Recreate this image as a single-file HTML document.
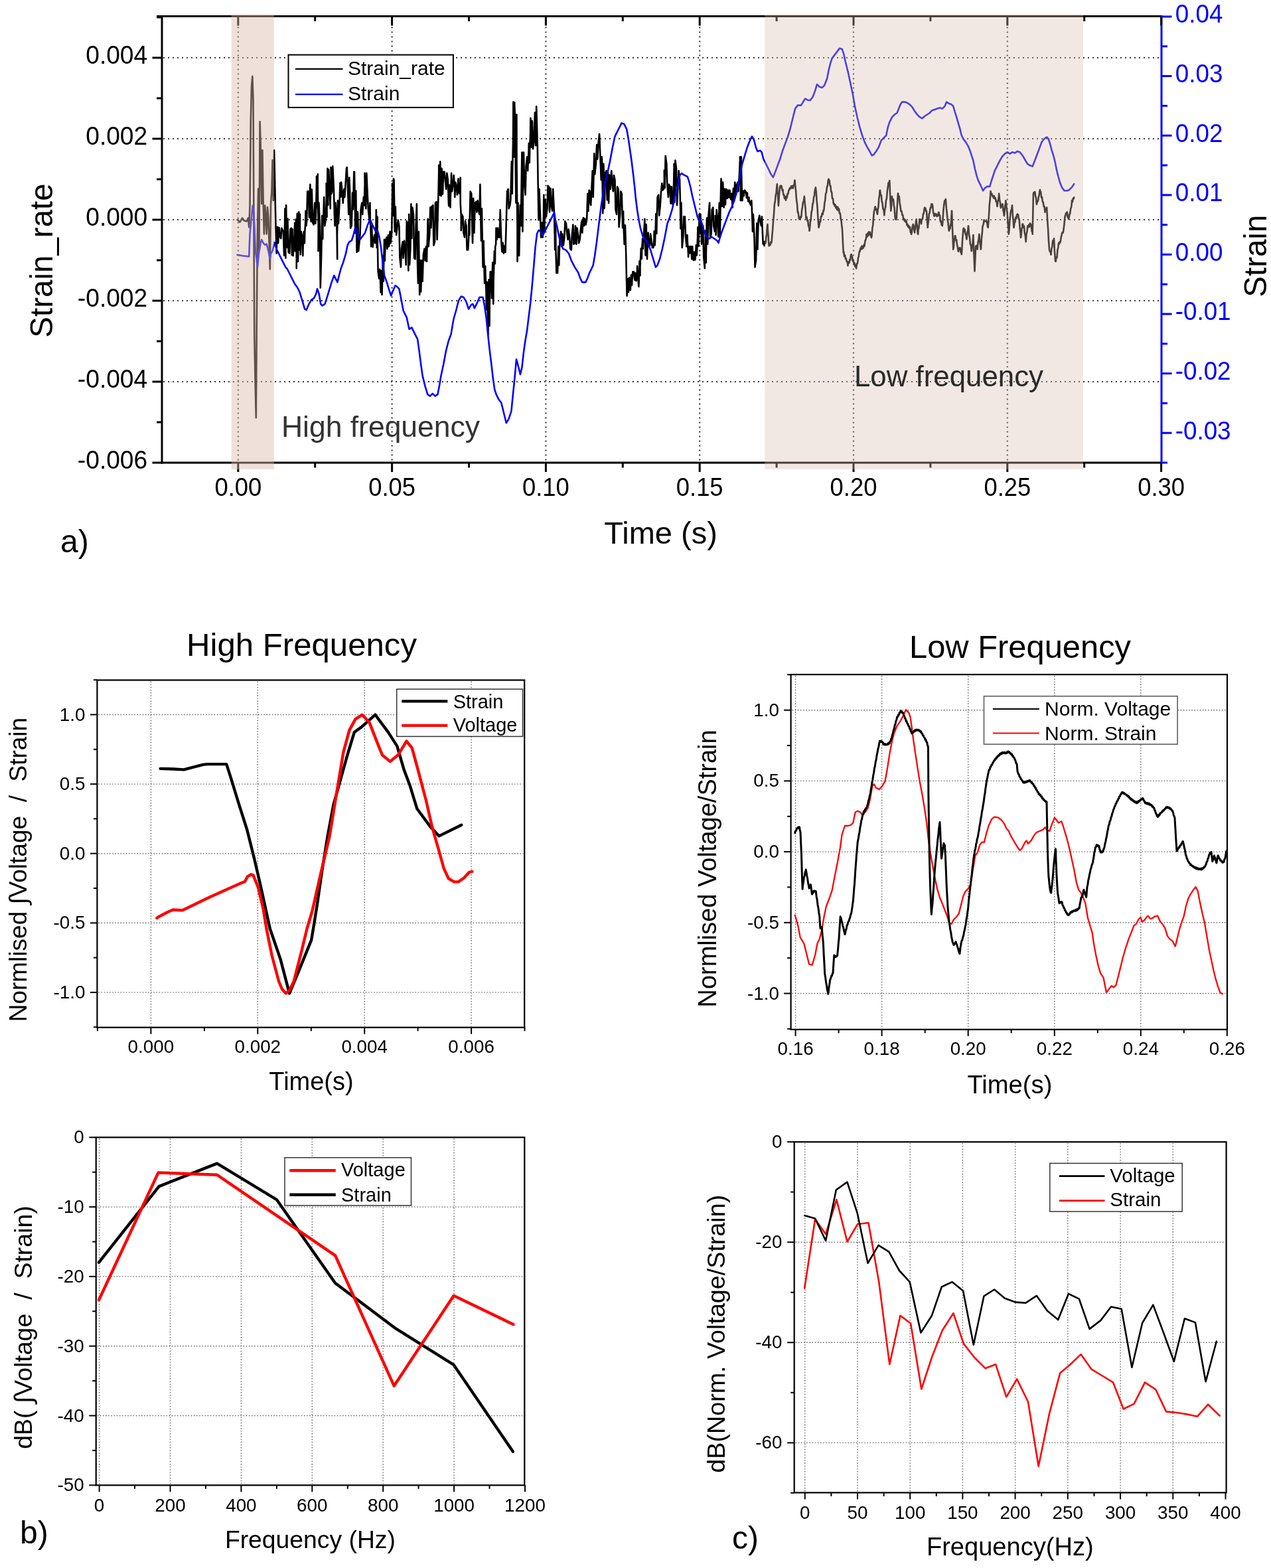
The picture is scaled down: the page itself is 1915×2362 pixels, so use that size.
<!DOCTYPE html>
<html><head><meta charset="utf-8"><title>Strain rate and strain figure</title>
<style>
html,body{margin:0;padding:0;background:#fff;}
body{width:1915px;height:2362px;overflow:hidden;}
svg{display:block;}
text{font-family:'Liberation Sans',Arial,sans-serif;}
</style></head>
<body>
<svg xmlns="http://www.w3.org/2000/svg" width="1915" height="2362" viewBox="0 0 1915 2362">
<rect width="1915" height="2362" fill="#fff"/>
<line x1="358.8" y1="26.6" x2="358.8" y2="695.0" stroke="#383838" stroke-width="2.2" stroke-dasharray="2 5"/>
<line x1="590.6" y1="26.6" x2="590.6" y2="695.0" stroke="#383838" stroke-width="2.2" stroke-dasharray="2 5"/>
<line x1="822.4" y1="26.6" x2="822.4" y2="695.0" stroke="#383838" stroke-width="2.2" stroke-dasharray="2 5"/>
<line x1="1054.2" y1="26.6" x2="1054.2" y2="695.0" stroke="#383838" stroke-width="2.2" stroke-dasharray="2 5"/>
<line x1="1286.0" y1="26.6" x2="1286.0" y2="695.0" stroke="#383838" stroke-width="2.2" stroke-dasharray="2 5"/>
<line x1="1517.8" y1="26.6" x2="1517.8" y2="695.0" stroke="#383838" stroke-width="2.2" stroke-dasharray="2 5"/>
<line x1="246.0" y1="87.0" x2="1748.0" y2="87.0" stroke="#383838" stroke-width="2.2" stroke-dasharray="2 5"/>
<line x1="246.0" y1="209.0" x2="1748.0" y2="209.0" stroke="#383838" stroke-width="2.2" stroke-dasharray="2 5"/>
<line x1="246.0" y1="331.0" x2="1748.0" y2="331.0" stroke="#383838" stroke-width="2.2" stroke-dasharray="2 5"/>
<line x1="246.0" y1="453.0" x2="1748.0" y2="453.0" stroke="#383838" stroke-width="2.2" stroke-dasharray="2 5"/>
<line x1="246.0" y1="575.0" x2="1748.0" y2="575.0" stroke="#383838" stroke-width="2.2" stroke-dasharray="2 5"/>
<polyline points="357.6,330.9 361.4,334.7 365.1,328.4 367.7,332.2 371.5,333.4 374.0,328.4 375.2,342.3 376.5,309.5 377.8,180.8 379.0,130.3 380.3,115.1 381.5,150.5 382.3,306.9 383.3,508.8 384.8,584.5 385.8,629.2 386.6,508.8 387.9,352.4 389.1,284.2 390.4,377.6 391.6,183.3 392.9,226.2 394.2,306.9 395.4,226.2 396.7,306.9 397.9,352.4 399.2,309.5 400.5,327.1 401.7,352.4 403.0,312.0 404.3,327.1 405.5,365.0 406.8,405.4 408.0,306.9 409.3,289.3 410.6,241.3 411.8,301.9 413.1,226.2 415.6,345.4 416.6,381.7 416.8,372.3 417.8,343.2 418.1,341.9 419.1,366.1 419.4,361.1 420.4,342.8 420.7,343.6 421.7,355.7 423.3,359.2 424.3,343.6 426.8,348.8 427.8,378.2 428.1,384.8 429.1,338.1 429.4,314.2 430.4,388.6 430.2,382.3 431.2,311.1 431.1,309.1 432.1,367.8 432.4,372.6 433.4,329.4 433.7,343.6 434.7,379.9 436.3,381.7 437.3,345.4 438.9,343.6 439.9,383.4 439.8,384.3 440.8,345.2 440.6,348.8 441.6,385.1 443.2,366.1 444.2,336.7 444.1,336.1 445.1,371.8 444.9,378.2 445.9,335.0 445.8,330.3 446.8,390.5 446.7,404.1 447.7,322.9 448.0,321.5 449.0,394.0 449.3,378.2 450.3,319.4 450.1,321.1 451.1,376.8 451.0,374.8 452.0,322.9 451.9,339.4 452.9,379.3 452.7,383.4 453.7,348.8 455.3,357.5 456.3,385.1 456.6,372.9 457.6,351.4 457.9,348.8 458.9,366.1 459.2,350.8 460.2,335.3 460.5,317.7 461.5,340.2 462.2,331.5 463.2,288.3 464.8,288.3 465.8,322.9 466.1,327.8 467.1,281.8 467.4,277.9 468.4,331.5 468.7,333.8 469.7,285.3 470.0,291.8 471.0,335.0 472.6,338.5 473.6,316.0 474.3,305.6 475.3,336.7 476.1,319.4 477.1,267.6 476.9,265.5 477.9,313.0 477.8,309.1 478.8,262.4 478.7,278.3 479.7,345.0 479.5,378.2 480.5,305.6 481.8,340.2 482.8,433.5 484.2,383.4 485.2,326.3 485.3,324.7 486.3,359.9 486.4,336.7 487.4,322.9 488.2,297.0 489.2,340.2 490.8,331.5 491.8,298.7 491.6,276.4 492.6,326.7 492.5,316.0 493.5,253.7 493.4,254.7 494.4,308.8 494.2,305.6 495.2,255.5 496.8,288.3 497.8,314.2 497.7,303.0 498.7,274.9 498.5,252.0 499.5,291.8 500.3,288.3 501.3,250.3 502.9,284.9 503.9,322.9 504.6,340.2 505.6,305.6 507.2,322.9 508.2,390.3 508.0,353.8 509.0,312.4 508.9,302.1 509.9,336.7 511.5,305.6 512.5,276.2 512.4,275.5 513.4,296.6 513.2,288.3 514.2,274.5 515.8,291.8 516.8,305.6 517.1,300.2 518.1,287.5 518.4,284.9 519.4,297.0 521.0,271.0 522.0,253.7 522.7,252.0 523.7,274.5 525.3,322.9 526.3,267.6 527.1,288.3 528.1,343.6 529.7,340.2 530.7,305.6 531.0,290.5 532.0,315.5 532.3,302.1 533.3,258.9 534.0,258.9 535.0,322.9 535.3,351.1 536.3,287.6 536.6,316.0 537.6,379.9 537.9,379.1 538.9,319.0 539.2,322.9 540.2,378.2 542.6,352.3 543.6,316.0 545.2,305.6 546.2,322.9 546.5,317.5 547.5,302.9 547.8,297.0 548.8,309.1 548.7,306.8 549.7,277.6 549.5,260.7 550.5,305.6 551.3,314.2 552.3,260.7 553.9,297.0 554.9,316.0 556.5,331.5 557.5,305.6 557.8,327.6 558.8,354.2 559.1,371.3 560.1,340.2 560.3,347.1 561.3,371.6 561.6,372.2 562.6,362.7 564.2,354.0 565.2,366.1 565.5,358.5 566.5,340.9 566.8,316.0 567.8,352.3 567.7,373.0 568.7,326.7 568.6,348.8 569.6,409.3 571.2,419.7 572.2,405.9 572.4,407.3 573.4,431.8 573.7,440.5 574.7,409.3 574.6,407.9 575.6,442.1 575.5,443.9 576.5,405.9 576.8,385.4 577.8,423.7 578.1,400.7 579.1,360.9 578.9,362.1 579.9,392.7 579.8,388.6 580.8,364.4 582.4,357.5 583.4,374.8 583.7,372.6 584.7,355.6 585.0,354.0 586.0,371.3 586.3,369.4 587.3,352.4 587.6,348.8 588.6,366.1 590.2,350.6 591.2,286.6 591.0,276.5 592.0,324.9 591.9,305.6 592.9,269.3 593.6,271.0 594.6,340.2 594.9,348.7 595.9,311.6 596.2,329.8 597.2,354.0 598.8,340.2 599.8,331.5 601.4,340.2 602.4,388.6 604.0,402.4 605.0,374.8 606.6,364.4 607.6,388.6 607.9,379.8 608.9,363.8 609.2,362.7 610.2,374.8 611.8,399.0 612.8,333.3 614.4,336.7 615.4,407.6 615.2,402.9 616.2,329.2 616.1,322.9 617.1,399.0 618.4,374.8 619.4,307.3 619.4,309.8 620.4,358.9 620.4,340.2 621.4,312.5 623.0,322.9 624.0,388.6 625.6,390.3 626.6,340.2 627.9,307.3 628.9,392.0 629.9,426.6 630.9,348.8 631.1,366.4 632.1,432.1 632.2,443.9 633.2,392.0 633.2,400.4 634.2,439.5 634.3,433.5 635.3,409.3 635.6,392.3 636.6,423.8 636.9,414.5 637.9,383.4 639.5,374.8 640.5,392.0 640.7,392.8 641.7,373.7 642.0,371.3 643.0,393.8 643.3,378.1 644.3,350.4 644.6,329.8 645.6,371.3 647.2,354.0 648.2,314.2 648.5,312.0 649.5,343.3 649.8,336.7 650.8,310.8 652.4,309.1 653.4,369.6 655.0,364.4 656.0,305.6 657.6,303.9 658.6,360.9 660.2,305.6 661.2,260.7 661.2,248.7 662.2,293.8 662.3,288.3 663.3,243.4 663.4,249.6 664.4,292.4 664.5,295.2 665.5,253.7 665.8,256.4 666.8,292.7 667.1,290.0 668.1,258.9 669.7,258.9 670.7,271.0 672.3,284.9 673.3,260.7 674.9,271.0 675.9,305.6 676.2,310.2 677.2,278.9 677.5,283.1 678.5,312.5 678.8,296.3 679.8,271.3 680.1,260.7 681.1,288.3 682.7,276.2 683.7,264.1 684.0,268.1 685.0,285.1 685.3,297.0 686.3,274.5 687.9,281.4 688.9,293.5 689.2,292.1 690.2,273.4 690.5,269.3 691.5,290.0 692.7,291.8 693.7,267.6 693.7,305.3 694.7,324.0 694.8,347.1 695.8,322.9 697.4,326.3 698.4,350.6 700.0,357.5 701.0,333.3 702.6,340.2 703.6,376.5 705.2,376.5 706.2,357.5 706.4,331.0 707.4,353.8 707.7,331.5 708.7,288.3 710.3,291.8 711.3,340.2 712.1,366.1 713.1,298.7 713.4,303.0 714.4,350.8 714.7,340.2 715.7,305.6 717.3,303.9 718.3,319.4 718.5,318.3 719.5,302.8 719.8,302.1 720.8,316.0 722.4,322.9 723.4,277.9 723.7,292.1 724.7,348.7 725.0,362.7 726.0,314.2 726.3,338.9 727.3,388.2 727.6,402.4 728.6,362.7 728.9,377.3 729.9,418.2 730.2,426.6 731.2,400.7 731.5,414.9 732.5,439.1 732.8,466.4 733.8,424.9 734.1,433.2 735.1,488.0 735.4,504.4 736.4,447.4 736.5,421.4 737.5,491.0 737.7,461.2 738.7,409.3 739.7,409.3 740.7,435.3 741.0,449.3 742.0,403.8 742.3,395.5 743.3,457.7 743.6,422.9 744.6,389.0 744.9,378.2 745.9,397.2 746.2,372.0 747.2,367.2 747.5,343.6 748.5,360.9 748.8,359.4 749.8,343.6 750.1,343.6 751.1,357.5 752.7,357.5 753.7,316.0 755.3,362.7 756.3,378.2 756.6,379.3 757.6,365.7 757.9,369.6 758.9,381.7 759.2,380.6 760.2,370.6 760.5,371.3 761.5,379.9 763.1,322.9 764.1,288.3 765.7,284.9 766.7,314.2 768.3,309.1 769.3,302.1 770.8,243.4 771.8,291.8 772.1,260.5 773.1,208.3 773.4,153.5 774.4,236.4 774.3,209.9 775.3,154.6 775.2,156.9 776.2,181.1 777.4,305.6 778.4,172.5 778.5,243.6 779.5,345.9 779.5,393.8 780.5,305.6 781.2,348.8 782.2,385.1 782.5,367.0 783.5,321.6 783.8,309.1 784.8,340.2 786.4,229.5 787.4,348.8 787.7,314.0 788.7,229.5 789.0,229.5 790.0,271.0 791.6,293.5 792.6,250.3 794.2,236.4 795.2,257.2 795.5,249.5 796.5,230.1 796.8,215.7 797.8,245.1 798.1,227.0 799.1,200.7 799.4,177.7 800.4,219.2 800.7,221.7 801.7,182.1 802.0,184.6 803.0,224.3 804.6,210.5 805.6,181.1 805.9,169.6 806.9,216.1 807.2,219.2 808.2,160.4 809.8,219.2 810.8,288.3 811.5,331.5 812.5,284.9 814.1,328.1 815.1,357.5 815.4,357.5 816.4,335.4 816.7,340.2 817.7,357.5 818.0,351.9 819.0,325.6 819.3,293.5 820.3,348.8 820.6,334.2 821.6,300.6 821.9,305.6 822.9,326.3 824.5,314.2 825.5,279.7 827.0,281.4 828.0,319.4 828.3,314.5 829.3,283.5 829.6,284.9 830.6,309.1 832.2,317.7 833.2,284.9 834.8,316.0 835.8,354.0 836.1,376.1 837.1,336.8 837.4,374.8 838.4,411.1 840.0,411.1 841.0,383.4 841.3,371.0 842.3,399.4 842.6,383.4 843.6,360.9 845.2,348.8 846.2,371.3 846.5,370.4 847.5,352.6 847.8,357.5 848.8,369.6 850.4,357.5 851.4,333.3 853.0,336.7 854.0,348.8 855.6,360.9 856.6,345.4 858.2,357.5 859.2,374.8 860.8,376.5 861.8,354.0 863.4,338.5 864.4,367.8 865.9,366.1 866.9,340.2 867.2,342.4 868.2,367.3 868.5,367.8 869.5,343.6 871.1,354.0 872.1,366.1 873.7,360.9 874.7,347.1 876.3,333.3 877.3,350.6 877.6,345.1 878.6,330.0 878.9,328.1 879.9,340.2 880.2,339.1 881.2,329.2 881.5,331.5 882.5,338.5 884.1,331.5 885.1,300.4 885.4,291.8 886.4,317.9 886.7,302.1 887.7,286.6 888.4,287.3 889.4,306.3 890.2,309.1 891.2,288.3 892.7,257.2 893.7,297.0 894.0,286.0 895.0,243.0 895.3,231.3 896.3,262.4 897.9,246.8 898.9,222.6 899.2,218.1 900.2,239.6 900.5,236.4 901.5,215.7 903.1,201.9 904.1,227.8 905.7,271.0 906.7,236.4 907.0,239.9 908.0,298.1 908.3,321.2 909.3,246.8 909.6,252.1 910.6,314.0 910.9,305.6 911.9,260.7 913.5,257.2 914.5,293.5 914.8,301.3 915.8,258.8 916.1,262.4 917.1,305.6 917.4,291.9 918.4,263.6 918.7,264.1 919.7,284.9 920.0,279.6 921.0,260.8 921.3,257.2 922.3,274.5 923.9,288.3 924.9,264.1 926.5,271.0 927.5,316.0 929.1,322.9 930.1,281.4 931.6,284.9 932.6,341.9 934.2,322.9 935.2,288.3 936.8,291.8 937.8,331.5 938.1,343.1 939.1,318.2 939.4,336.7 940.4,360.9 940.7,368.0 941.7,339.1 942.0,340.2 943.0,374.8 944.6,445.6 945.6,421.4 945.9,419.8 946.9,440.1 947.2,435.3 948.2,418.0 948.5,418.9 949.5,436.2 949.8,437.0 950.8,419.7 951.1,414.0 952.1,429.4 952.4,421.4 953.4,409.3 955.0,409.3 956.0,419.7 956.3,421.8 957.3,411.4 957.6,412.8 958.6,423.2 958.9,420.2 959.9,408.9 960.2,400.7 961.2,418.0 962.4,431.8 963.4,402.4 963.5,393.2 964.5,415.1 964.5,400.7 965.5,383.4 965.8,374.2 966.8,389.7 967.1,374.8 968.1,362.7 968.0,359.9 969.0,374.8 968.8,374.8 969.8,357.5 971.4,329.8 972.4,379.9 972.7,384.7 973.7,338.1 974.0,354.0 975.0,390.3 975.3,379.2 976.3,352.9 976.6,350.6 977.6,366.1 979.2,369.6 980.2,352.3 981.8,364.4 982.8,373.0 984.4,373.0 985.4,362.7 985.7,348.4 986.7,369.5 987.0,364.4 988.0,335.0 988.3,322.0 989.3,351.7 989.6,331.5 990.6,297.0 992.2,293.5 993.2,324.6 994.8,309.1 995.8,291.8 997.3,276.2 998.3,286.6 999.9,284.9 1000.9,272.8 1000.8,256.6 1001.8,283.0 1001.7,281.4 1002.7,234.7 1004.3,246.8 1005.3,277.9 1006.9,297.0 1007.9,277.9 1009.5,281.4 1010.5,305.6 1010.7,306.6 1011.7,281.4 1012.0,281.4 1013.0,307.3 1014.6,305.6 1015.6,252.0 1015.5,246.9 1016.5,304.4 1016.4,302.1 1017.4,241.6 1019.0,253.7 1020.0,309.1 1021.6,277.9 1022.6,257.2 1024.1,271.0 1025.1,312.5 1025.4,344.5 1026.4,305.4 1026.7,322.9 1027.7,373.0 1029.3,357.5 1030.3,326.3 1031.9,326.3 1032.9,354.0 1034.5,371.3 1035.5,354.0 1035.8,363.3 1036.8,378.7 1037.1,386.9 1038.1,371.3 1038.4,371.3 1039.4,381.5 1039.7,378.2 1040.7,371.3 1041.0,371.3 1042.0,384.9 1042.3,390.3 1043.3,371.3 1043.6,379.3 1044.6,391.2 1044.9,392.0 1045.9,386.9 1046.2,379.6 1047.2,391.4 1047.5,390.3 1048.5,376.5 1048.8,369.2 1049.8,384.6 1050.1,379.9 1051.1,357.5 1051.4,342.2 1052.4,370.6 1052.7,364.4 1053.7,322.9 1053.5,322.9 1054.5,351.8 1054.4,345.4 1055.4,322.9 1055.7,328.5 1056.7,354.2 1057.0,367.8 1058.0,340.2 1059.2,340.2 1060.2,386.9 1061.8,404.1 1062.8,360.9 1062.9,347.5 1063.9,395.8 1063.9,381.7 1064.9,329.8 1065.2,328.2 1066.2,367.7 1066.5,357.5 1067.5,324.6 1069.1,305.6 1070.1,357.5 1071.7,352.3 1072.7,316.0 1074.3,312.5 1075.3,340.2 1076.9,348.8 1077.9,331.5 1077.7,325.1 1078.7,352.4 1078.6,354.0 1079.6,316.0 1081.2,331.5 1082.2,355.7 1082.5,356.7 1083.5,314.0 1083.8,305.6 1084.8,357.5 1085.5,312.5 1086.5,269.3 1086.8,271.2 1087.8,310.9 1088.1,309.1 1089.1,274.5 1089.4,279.2 1090.4,311.4 1090.7,312.5 1091.7,284.9 1092.0,284.9 1093.0,308.1 1093.3,298.7 1094.3,284.9 1094.6,285.9 1095.6,298.7 1095.9,298.7 1096.9,286.6 1097.2,286.6 1098.2,297.5 1098.5,297.0 1099.5,286.6 1099.8,289.2 1100.8,298.1 1101.1,300.4 1102.1,293.5 1102.4,291.6 1103.4,307.3 1103.7,312.5 1104.7,288.3 1105.0,283.9 1106.0,303.1 1106.3,293.5 1107.3,274.5 1107.6,278.1 1108.6,291.7 1108.9,288.3 1109.9,279.7 1111.5,274.5 1112.5,288.3 1114.1,260.7 1115.1,236.4 1114.9,236.4 1115.9,281.0 1115.8,302.1 1116.8,236.4 1117.1,260.5 1118.1,302.1 1118.4,302.1 1119.4,288.3 1119.7,287.6 1120.7,295.3 1121.0,291.8 1122.0,286.6 1123.6,288.3 1124.6,295.2 1124.9,298.0 1125.9,290.5 1126.2,295.2 1127.2,302.1 1127.4,303.5 1128.4,297.2 1128.7,300.4 1129.7,305.6 1131.3,309.1 1132.3,302.1 1132.6,308.8 1133.6,335.8 1133.9,348.8 1134.9,322.9 1136.5,357.5 1137.5,402.4 1139.1,392.0 1140.1,345.4 1140.4,336.2 1141.4,375.5 1141.7,362.7 1142.7,331.5 1144.3,324.6 1145.3,333.3 1146.9,340.2 1147.9,326.3 1149.7,367.4 1149.7,365.5 1150.6,364.7 1151.4,368.0 1151.5,370.2 1152.4,363.7 1153.3,366.5 1154.0,363.0 1154.2,358.4 1155.1,352.7 1156.0,341.3 1156.5,337.8 1156.9,346.9 1157.8,357.9 1158.3,368.0 1158.7,370.5 1159.6,367.0 1160.3,368.0 1160.5,369.3 1161.4,364.6 1162.3,365.8 1162.8,363.0 1163.2,356.2 1164.1,347.2 1165.0,333.5 1165.3,330.2 1165.9,324.5 1166.8,309.5 1167.3,305.0 1167.7,304.7 1168.6,295.0 1169.1,292.3 1169.5,291.4 1170.4,280.4 1170.9,277.2 1171.3,285.7 1172.2,297.4 1172.9,310.0 1173.1,308.2 1174.0,292.7 1174.9,283.9 1174.9,282.2 1175.8,279.8 1176.7,279.7 1176.7,282.3 1177.6,280.1 1178.5,286.4 1179.2,287.3 1179.4,285.5 1180.3,293.4 1181.2,293.2 1181.7,297.4 1182.1,298.9 1183.0,296.1 1183.9,301.6 1184.3,299.9 1184.8,295.8 1185.7,298.0 1186.6,291.6 1186.8,292.3 1187.5,291.7 1188.4,286.4 1189.3,285.9 1189.3,284.8 1190.2,283.0 1191.1,284.3 1191.8,282.2 1192.0,280.4 1192.9,283.0 1193.8,280.2 1194.7,283.6 1195.1,282.2 1195.6,279.0 1196.5,279.0 1197.4,271.5 1197.6,272.1 1198.3,281.0 1199.2,288.3 1199.4,292.3 1200.1,301.3 1201.0,307.4 1201.9,319.8 1201.9,317.6 1202.8,321.1 1203.7,328.5 1204.4,330.2 1204.6,327.7 1205.5,330.0 1206.4,326.0 1207.0,327.7 1207.3,326.5 1208.2,316.1 1209.1,311.5 1209.5,307.5 1210.0,304.6 1210.9,303.0 1211.8,295.8 1212.0,297.4 1212.7,306.6 1213.6,314.1 1214.5,329.5 1214.5,327.7 1215.4,326.9 1216.3,332.6 1217.1,332.7 1217.2,332.0 1218.1,340.6 1219.0,342.1 1219.6,347.8 1219.9,346.1 1220.8,334.9 1221.7,331.1 1222.1,325.1 1222.6,319.4 1223.5,316.3 1224.4,306.7 1224.6,307.5 1225.3,304.5 1226.2,296.7 1227.1,294.6 1227.1,292.3 1228.0,285.1 1228.9,283.8 1228.9,282.2 1229.8,289.5 1230.7,303.9 1230.9,305.0 1231.6,313.3 1232.5,329.5 1233.4,340.6 1233.5,342.8 1234.3,340.4 1235.2,334.8 1236.0,332.7 1236.1,334.3 1237.0,326.1 1237.9,326.2 1238.5,322.6 1238.8,321.2 1239.7,322.8 1240.6,316.7 1241.0,317.6 1241.5,315.4 1242.4,305.5 1243.3,301.4 1243.6,297.4 1244.2,291.3 1245.1,289.8 1246.0,281.2 1246.1,282.2 1246.9,279.1 1247.8,271.3 1248.6,269.6 1248.7,270.8 1249.6,271.9 1250.5,279.5 1251.1,279.7 1251.4,280.3 1252.3,288.8 1253.2,289.6 1253.6,294.9 1254.1,299.0 1255.0,299.3 1255.9,307.0 1256.2,307.5 1256.8,306.7 1257.7,310.5 1258.6,308.4 1259.5,313.2 1260.0,312.5 1260.4,311.2 1261.3,316.0 1262.2,311.7 1263.1,317.2 1263.7,315.0 1264.0,314.4 1264.9,321.3 1265.8,321.1 1266.3,325.1 1266.7,329.7 1267.6,333.1 1268.5,342.2 1268.8,342.8 1269.4,353.0 1270.3,372.4 1270.8,380.7 1271.2,379.0 1272.1,386.4 1273.0,384.2 1273.8,388.2 1273.9,390.0 1274.8,389.4 1275.7,394.1 1276.6,394.3 1277.5,400.2 1277.6,398.3 1278.4,394.4 1279.3,396.4 1280.1,393.3 1280.2,390.9 1281.1,391.7 1282.0,383.9 1282.7,383.2 1282.9,386.0 1283.8,385.5 1284.7,392.7 1285.2,393.3 1285.6,392.0 1286.5,397.2 1287.4,396.0 1287.7,398.3 1288.3,401.6 1289.2,399.2 1290.1,404.4 1290.2,403.4 1291.0,397.1 1291.9,397.1 1292.8,390.7 1292.8,388.8 1293.7,386.9 1294.6,379.8 1295.3,378.1 1295.5,379.0 1296.4,373.9 1297.3,375.7 1297.8,373.1 1298.2,370.8 1299.1,375.0 1300.0,370.8 1300.3,373.1 1300.9,373.4 1301.8,368.2 1302.7,370.5 1302.8,368.0 1303.6,362.1 1304.5,361.3 1305.4,355.4 1305.4,353.1 1306.3,356.9 1307.2,351.6 1307.9,352.9 1308.1,355.3 1309.0,349.3 1309.9,352.6 1310.4,350.4 1310.8,349.7 1311.7,355.2 1312.6,354.6 1312.9,357.9 1313.5,355.6 1314.4,343.3 1315.3,338.9 1315.5,335.2 1316.1,327.8 1316.3,325.1 1317.0,318.0 1317.9,315.2 1318.1,312.5 1318.8,311.3 1319.7,316.0 1320.1,315.0 1320.6,314.8 1321.5,321.7 1322.1,322.6 1322.4,317.3 1323.3,312.6 1323.9,305.0 1324.2,300.0 1325.1,294.3 1325.6,287.3 1326.0,286.7 1326.9,293.2 1327.7,294.9 1327.8,294.1 1328.7,303.7 1329.6,305.8 1329.7,307.5 1330.5,314.8 1331.4,315.9 1332.2,322.6 1332.3,324.3 1333.2,315.4 1334.0,312.5 1334.1,312.3 1335.0,301.9 1335.9,299.2 1336.5,292.3 1336.8,287.9 1337.7,282.8 1338.3,277.2 1338.6,275.2 1339.5,276.0 1340.3,272.1 1340.4,274.1 1341.3,298.1 1342.2,314.0 1342.3,317.6 1343.1,309.3 1344.0,295.9 1344.1,297.4 1344.9,301.4 1345.8,300.2 1346.6,305.0 1346.7,308.7 1347.6,313.6 1348.5,326.3 1349.1,330.2 1349.4,327.7 1350.3,330.7 1350.9,327.7 1351.2,319.1 1352.1,306.7 1352.9,292.3 1353.0,291.2 1353.9,296.8 1354.8,295.8 1354.9,297.4 1355.7,306.2 1356.6,311.1 1356.7,312.5 1357.5,318.3 1358.4,317.8 1359.2,322.6 1359.3,324.0 1360.2,323.7 1361.1,329.7 1361.7,330.2 1362.0,329.3 1362.9,333.0 1363.8,331.2 1364.3,332.7 1364.7,334.8 1365.6,333.1 1366.5,339.3 1366.8,337.8 1367.4,337.8 1368.3,342.0 1369.2,340.2 1370.1,343.6 1370.6,342.8 1371.0,342.2 1371.9,350.2 1372.8,350.5 1373.1,352.9 1373.7,350.5 1374.6,342.2 1375.5,339.3 1375.6,337.8 1376.4,339.2 1377.3,347.2 1378.1,350.4 1378.2,348.1 1379.1,344.6 1380.0,333.7 1380.7,330.2 1380.9,335.2 1381.8,339.5 1382.7,351.4 1383.2,352.9 1383.6,346.5 1384.5,342.8 1385.4,330.3 1385.7,330.2 1386.3,333.0 1387.2,330.9 1388.1,337.3 1388.2,335.2 1389.0,330.3 1389.9,330.1 1390.7,325.1 1390.8,322.7 1391.7,321.8 1392.6,314.8 1393.3,312.5 1393.5,315.2 1394.4,313.6 1395.3,318.3 1395.8,317.6 1396.2,320.7 1397.1,335.3 1397.8,342.8 1398.0,339.9 1398.9,332.7 1399.6,325.1 1399.8,322.1 1400.7,320.9 1401.6,313.7 1402.1,312.5 1402.5,313.3 1403.4,307.4 1404.3,309.3 1404.6,307.5 1405.2,310.1 1406.1,320.3 1407.0,322.4 1407.1,325.1 1407.9,325.6 1408.8,321.8 1409.7,322.6 1409.7,324.3 1410.6,322.5 1411.5,325.9 1412.2,325.1 1412.4,323.3 1413.3,325.1 1414.2,319.7 1414.7,320.1 1415.1,324.1 1416.0,324.1 1416.9,333.6 1417.2,332.7 1417.8,333.0 1418.7,339.0 1419.6,338.5 1419.8,340.3 1420.5,331.9 1421.4,317.1 1422.3,307.5 1422.3,309.6 1423.2,302.2 1424.1,303.3 1424.8,299.9 1425.0,301.4 1425.9,313.7 1426.8,321.1 1427.3,327.7 1427.7,331.6 1428.6,335.8 1429.5,346.1 1429.9,347.8 1430.4,344.1 1431.3,344.9 1432.2,338.3 1432.4,340.3 1433.1,333.1 1434.0,318.3 1434.1,317.6 1434.9,341.0 1435.8,363.2 1436.2,375.6 1436.7,373.1 1437.6,362.4 1438.5,359.0 1438.7,355.4 1439.4,355.4 1440.3,362.0 1441.2,363.0 1441.2,361.4 1442.1,369.4 1443.0,372.4 1443.7,378.1 1443.9,378.8 1444.8,374.0 1445.7,376.0 1446.3,373.1 1446.6,373.5 1447.5,380.1 1448.4,380.8 1448.8,383.2 1449.3,376.1 1450.2,359.6 1451.1,349.7 1451.3,345.3 1452.0,343.6 1452.9,348.9 1453.8,345.8 1453.8,347.8 1454.7,353.3 1455.6,354.5 1456.4,360.5 1456.5,360.0 1457.4,350.0 1458.3,347.1 1458.9,340.3 1459.2,341.0 1460.1,353.9 1461.0,358.0 1461.4,363.0 1461.9,368.2 1462.8,369.3 1463.7,378.0 1463.9,378.1 1464.6,369.3 1465.5,366.2 1466.4,354.0 1466.4,355.4 1467.3,380.6 1468.2,400.4 1468.5,408.4 1469.1,395.6 1470.0,373.0 1470.2,370.6 1470.9,372.1 1471.8,369.9 1472.7,375.6 1472.8,373.1 1473.6,364.8 1474.5,361.4 1475.3,352.9 1475.4,353.3 1476.3,364.6 1477.2,369.1 1477.8,375.6 1478.1,374.0 1479.0,358.2 1479.9,350.5 1480.3,342.8 1480.8,340.0 1481.7,338.1 1482.6,331.3 1482.8,332.7 1486.3,333.9 1486.3,332.6 1487.2,335.1 1488.1,341.7 1488.8,342.6 1489.0,338.7 1489.9,325.9 1490.6,312.4 1490.8,308.5 1491.7,300.8 1492.6,288.0 1492.6,289.7 1493.5,292.3 1494.4,291.7 1495.1,294.7 1495.3,295.8 1496.2,294.9 1497.1,298.3 1497.7,297.3 1498.0,295.3 1498.9,299.5 1499.8,298.2 1500.2,299.8 1500.7,303.8 1501.6,303.0 1502.5,310.9 1502.7,309.9 1503.4,303.4 1504.3,301.2 1505.2,291.5 1505.2,292.2 1506.1,301.6 1507.0,305.2 1507.7,312.4 1507.9,313.1 1508.8,309.3 1509.7,309.8 1510.3,307.3 1510.6,307.5 1511.5,317.1 1512.4,320.5 1512.8,325.0 1513.3,322.3 1514.2,310.8 1515.1,305.9 1515.3,302.3 1516.0,307.0 1516.9,316.0 1517.8,321.1 1517.8,322.5 1518.7,337.6 1519.6,347.5 1519.8,352.7 1520.5,346.2 1521.4,332.2 1522.3,324.9 1522.4,322.5 1523.2,317.0 1524.1,316.0 1524.9,309.9 1525.0,309.3 1525.9,324.2 1526.8,332.9 1527.4,342.6 1527.7,342.9 1528.6,334.3 1529.5,334.3 1529.9,330.0 1530.4,327.6 1531.3,329.2 1532.2,323.4 1533.0,322.5 1533.1,324.4 1534.0,323.4 1534.9,329.4 1535.5,330.0 1535.8,331.9 1536.7,344.3 1537.6,351.4 1538.0,357.8 1538.5,356.0 1539.4,344.8 1540.3,341.8 1540.5,337.6 1541.2,337.6 1542.1,342.8 1543.0,340.7 1543.1,342.6 1543.9,351.3 1544.8,355.1 1545.6,362.8 1545.7,364.1 1546.6,352.1 1547.5,349.0 1548.1,342.6 1548.4,340.4 1549.3,342.3 1550.2,338.5 1550.6,340.1 1551.1,341.6 1552.0,336.2 1552.9,340.1 1553.1,337.6 1553.8,340.3 1554.7,348.5 1555.6,350.4 1555.7,352.7 1556.5,313.1 1556.9,292.2 1557.4,290.1 1558.3,291.9 1559.2,288.9 1559.4,289.7 1560.1,295.2 1561.0,298.4 1561.9,307.9 1562.0,307.3 1562.8,303.6 1563.7,303.6 1564.5,299.8 1564.6,296.8 1565.5,295.1 1566.4,287.6 1567.0,285.9 1567.3,289.0 1568.2,288.9 1569.1,297.6 1569.5,297.3 1570.0,296.8 1570.9,304.0 1571.8,304.8 1572.1,307.3 1572.7,311.4 1573.6,311.1 1574.5,319.7 1574.6,317.4 1575.4,314.7 1576.3,315.1 1577.1,312.4 1577.2,313.0 1578.1,330.8 1578.9,342.6 1579.0,343.3 1579.9,361.4 1580.8,372.9 1580.9,375.4 1581.7,378.7 1582.6,379.1 1583.4,383.0 1583.5,383.8 1584.4,374.2 1585.3,372.2 1585.9,365.3 1586.2,362.6 1587.1,364.1 1587.9,360.3 1588.0,359.4 1588.9,377.9 1589.8,389.7 1590.0,393.1 1590.7,393.9 1591.6,387.2 1592.2,388.0 1592.5,388.2 1593.4,376.4 1594.3,373.0 1594.8,367.9 1595.2,365.9 1596.1,367.5 1597.0,363.7 1597.3,365.3 1597.9,363.1 1598.8,356.8 1599.7,354.4 1599.8,352.7 1600.6,350.0 1601.5,350.7 1602.3,347.7 1602.4,346.1 1603.3,339.6 1604.2,329.7 1604.8,325.0 1605.1,325.4 1606.0,321.2 1606.9,321.7 1607.4,319.9 1607.8,319.3 1608.7,327.2 1609.6,327.9 1609.9,330.0 1610.5,328.8 1611.4,322.6 1612.3,321.8 1612.4,319.9 1613.2,314.2 1614.1,312.1 1614.9,304.8 1615.0,302.1 1615.9,304.2 1616.8,298.8 1617.7,299.4 1618.2,297.3" fill="none" stroke="#000" stroke-width="2.6" stroke-linejoin="round" stroke-linecap="round" stroke-linejoin="miter" stroke-miterlimit="3"/>
<polyline points="357.6,383.9 365.1,385.2 375.2,386.4 376.5,352.4 379.0,327.1 380.8,309.5 382.3,319.6 383.3,339.7 384.8,377.6 386.6,390.2 387.9,402.8 389.9,382.6 391.6,372.6 392.9,365.0 394.2,361.2 396.7,366.2 399.2,368.8 401.7,367.5 404.3,377.6 406.8,390.2 408.0,382.6 410.6,377.6 413.1,367.5 413.6,365.0 416.3,374.7 420.1,382.2 423.9,389.8 427.7,397.4 430.2,402.4 432.7,405.0 436.5,412.5 440.3,420.1 444.1,427.7 447.9,432.7 451.6,440.3 455.4,452.9 459.2,465.5 461.7,466.8 465.5,457.9 469.3,451.6 473.1,449.1 476.1,442.8 478.1,435.2 480.7,442.8 483.2,457.9 485.7,460.5 489.5,457.9 492.0,450.4 495.8,437.8 499.6,425.1 503.4,415.0 505.9,420.1 508.4,425.1 510.9,415.0 513.5,405.0 517.2,394.9 521.0,382.2 523.6,369.6 526.1,364.6 529.9,362.1 532.4,354.5 534.9,344.4 537.4,344.4 540.0,357.0 542.5,360.8 546.3,355.7 550.0,350.7 553.8,339.3 557.6,330.5 561.4,339.3 565.2,346.9 569.0,348.2 571.5,357.0 574.0,372.1 576.5,394.9 579.1,415.0 582.8,425.1 586.6,437.8 589.2,445.3 591.7,439.0 595.5,430.2 597.6,431.4 601.4,435.2 603.9,447.8 607.7,468.0 612.7,478.1 616.5,495.8 620.3,493.3 625.3,503.4 629.1,510.9 631.6,528.6 634.2,548.8 636.7,566.4 640.5,581.6 644.3,594.2 648.0,596.7 651.8,592.9 655.6,596.7 659.4,594.2 661.9,581.6 664.4,566.4 668.2,548.8 672.0,528.6 675.8,513.5 679.6,503.4 683.4,480.7 687.1,468.0 690.9,452.9 694.7,446.6 698.5,447.8 702.3,454.2 706.1,465.5 709.9,459.2 712.4,457.9 714.9,464.2 718.7,456.7 722.5,447.8 727.5,447.8 730.0,460.5 732.6,478.1 735.1,503.4 737.6,526.1 740.1,546.3 742.7,569.0 745.2,586.6 747.7,594.2 751.5,601.8 755.3,606.8 757.8,616.9 760.3,627.0 762.8,637.1 766.6,630.8 770.4,619.4 772.9,594.2 775.5,569.0 778.0,541.2 778.8,543.7 781.4,553.8 783.9,563.9 786.4,553.8 788.9,531.1 791.4,513.5 794.0,498.3 796.5,478.1 799.0,457.9 801.5,432.7 804.1,402.4 806.6,372.1 809.1,352.0 811.6,346.9 815.4,349.4 817.9,354.5 821.7,346.9 825.5,339.3 829.3,331.8 833.1,324.2 835.1,320.4 836.9,331.8 839.4,341.9 841.9,354.5 844.4,364.6 848.2,374.7 853.3,377.2 857.1,382.2 860.8,392.3 865.9,402.4 870.9,410.0 874.7,420.1 877.2,425.1 882.3,425.1 884.8,420.1 888.6,410.0 893.6,399.9 896.2,384.8 898.7,367.1 901.2,346.9 903.7,326.7 906.3,306.5 908.8,291.4 911.3,276.3 915.1,261.1 918.9,243.5 922.7,223.3 926.4,205.6 931.5,195.5 936.5,185.4 940.3,186.7 944.1,194.3 946.6,208.1 949.2,225.8 951.7,243.5 954.2,263.6 956.7,286.4 957.6,296.4 960.1,316.6 962.6,331.8 965.1,344.4 968.9,357.0 972.7,362.1 976.5,367.1 980.3,377.2 984.1,389.8 987.9,402.4 990.4,399.9 994.2,389.8 997.9,374.7 1001.7,357.0 1005.5,336.8 1009.3,326.7 1013.1,314.1 1016.9,296.4 1020.7,281.3 1024.4,263.6 1027.0,261.1 1030.7,263.6 1035.8,266.2 1038.3,273.7 1040.8,283.8 1043.4,296.4 1045.9,306.5 1048.4,316.6 1050.9,326.7 1053.5,331.8 1056.0,331.8 1058.5,339.3 1061.0,349.4 1064.8,357.0 1068.6,359.5 1072.4,357.0 1076.2,359.5 1080.0,362.1 1082.5,365.8 1085.0,357.0 1087.5,349.4 1091.3,339.3 1095.1,329.3 1098.9,319.2 1102.7,311.6 1106.4,301.5 1110.2,288.9 1114.0,268.7 1117.8,248.5 1121.6,235.9 1125.4,223.3 1129.2,213.2 1132.9,205.6 1133.8,206.5 1136.3,211.6 1138.8,221.7 1141.4,228.0 1145.1,226.7 1147.7,229.3 1150.2,239.3 1154.0,246.9 1157.8,254.5 1161.5,262.1 1164.8,267.1 1167.9,259.5 1171.6,249.4 1175.4,239.3 1179.2,226.7 1183.0,216.6 1186.8,206.5 1190.6,193.9 1194.3,178.8 1198.1,163.6 1201.9,158.6 1207.0,158.6 1210.7,152.3 1213.3,148.5 1217.1,151.0 1220.8,151.0 1224.6,146.0 1228.4,135.9 1230.9,127.1 1234.7,130.8 1238.5,132.1 1242.3,128.3 1246.1,118.2 1248.6,105.6 1251.1,95.5 1253.6,87.9 1257.4,82.9 1261.2,77.9 1265.0,72.8 1268.8,74.1 1271.3,81.6 1273.8,93.0 1277.6,108.1 1281.4,125.8 1285.2,143.5 1287.7,158.6 1291.5,176.3 1295.3,191.4 1299.1,204.0 1302.8,214.1 1306.6,221.7 1310.4,228.0 1313.7,234.3 1316.3,233.0 1320.1,228.0 1323.9,221.7 1327.7,211.6 1331.4,207.8 1335.2,204.0 1337.8,191.4 1340.3,183.8 1344.1,176.3 1347.9,172.5 1351.6,170.0 1354.2,163.6 1356.7,157.3 1359.2,153.6 1363.0,153.6 1366.8,154.8 1370.6,157.3 1374.3,161.1 1378.1,167.4 1381.9,172.5 1385.7,176.3 1389.5,178.3 1393.3,175.0 1397.1,172.5 1400.8,170.0 1404.6,166.2 1408.4,164.9 1412.2,163.6 1416.0,162.4 1419.8,163.6 1423.6,159.9 1426.1,153.6 1429.9,156.1 1433.6,157.3 1436.2,159.9 1438.7,168.7 1441.2,176.3 1443.7,185.1 1446.3,193.9 1448.8,204.0 1451.3,209.1 1455.1,214.1 1458.9,220.4 1461.4,226.7 1463.9,234.3 1466.4,241.9 1469.0,254.5 1471.5,264.6 1474.0,272.1 1477.8,279.7 1481.1,287.3 1483.8,283.4 1487.6,280.9 1491.3,280.9 1493.9,272.0 1496.4,264.5 1498.9,256.9 1502.7,249.3 1506.5,241.8 1510.3,235.5 1514.0,231.7 1517.8,229.2 1521.6,231.7 1525.4,229.2 1529.2,230.4 1533.0,227.9 1536.7,229.2 1540.5,234.2 1544.3,240.5 1548.1,246.8 1551.9,249.3 1555.7,250.6 1558.2,244.3 1562.0,234.2 1565.8,224.1 1569.5,214.0 1573.3,209.0 1577.1,206.5 1579.6,209.0 1582.1,216.5 1584.7,226.6 1587.2,234.2 1589.7,244.3 1592.2,256.9 1594.8,267.0 1597.3,275.8 1599.8,282.1 1603.6,287.2 1607.4,287.2 1611.1,285.9 1614.9,282.1 1618.2,277.1" fill="none" stroke="#0000ff" stroke-width="2.6" stroke-linejoin="round" stroke-linecap="round" />
<line x1="236.0" y1="24.6" x2="1750.0" y2="24.6" stroke="#000" stroke-width="3" />
<line x1="244.0" y1="23.1" x2="244.0" y2="698.5" stroke="#000" stroke-width="3" />
<line x1="242.5" y1="697.0" x2="1750.0" y2="697.0" stroke="#000" stroke-width="3" />
<line x1="1750.0" y1="23.1" x2="1750.0" y2="697.0" stroke="#0000ff" stroke-width="3" />
<line x1="229.5" y1="697.0" x2="244.0" y2="697.0" stroke="#000" stroke-width="3" />
<line x1="236.0" y1="636.0" x2="244.0" y2="636.0" stroke="#000" stroke-width="3" />
<line x1="229.5" y1="575.0" x2="244.0" y2="575.0" stroke="#000" stroke-width="3" />
<line x1="236.0" y1="514.0" x2="244.0" y2="514.0" stroke="#000" stroke-width="3" />
<line x1="229.5" y1="453.0" x2="244.0" y2="453.0" stroke="#000" stroke-width="3" />
<line x1="236.0" y1="392.0" x2="244.0" y2="392.0" stroke="#000" stroke-width="3" />
<line x1="229.5" y1="331.0" x2="244.0" y2="331.0" stroke="#000" stroke-width="3" />
<line x1="236.0" y1="270.0" x2="244.0" y2="270.0" stroke="#000" stroke-width="3" />
<line x1="229.5" y1="209.0" x2="244.0" y2="209.0" stroke="#000" stroke-width="3" />
<line x1="236.0" y1="148.0" x2="244.0" y2="148.0" stroke="#000" stroke-width="3" />
<line x1="229.5" y1="87.0" x2="244.0" y2="87.0" stroke="#000" stroke-width="3" />
<line x1="236.0" y1="26.0" x2="244.0" y2="26.0" stroke="#000" stroke-width="3" />
<line x1="358.8" y1="697.0" x2="358.8" y2="711.0" stroke="#000" stroke-width="3" />
<line x1="358.8" y1="24.6" x2="358.8" y2="38.6" stroke="#000" stroke-width="3" />
<line x1="474.7" y1="697.0" x2="474.7" y2="704.5" stroke="#000" stroke-width="3" />
<line x1="474.7" y1="24.6" x2="474.7" y2="32.1" stroke="#000" stroke-width="3" />
<line x1="590.6" y1="697.0" x2="590.6" y2="711.0" stroke="#000" stroke-width="3" />
<line x1="590.6" y1="24.6" x2="590.6" y2="38.6" stroke="#000" stroke-width="3" />
<line x1="706.5" y1="697.0" x2="706.5" y2="704.5" stroke="#000" stroke-width="3" />
<line x1="706.5" y1="24.6" x2="706.5" y2="32.1" stroke="#000" stroke-width="3" />
<line x1="822.4" y1="697.0" x2="822.4" y2="711.0" stroke="#000" stroke-width="3" />
<line x1="822.4" y1="24.6" x2="822.4" y2="38.6" stroke="#000" stroke-width="3" />
<line x1="938.3" y1="697.0" x2="938.3" y2="704.5" stroke="#000" stroke-width="3" />
<line x1="938.3" y1="24.6" x2="938.3" y2="32.1" stroke="#000" stroke-width="3" />
<line x1="1054.2" y1="697.0" x2="1054.2" y2="711.0" stroke="#000" stroke-width="3" />
<line x1="1054.2" y1="24.6" x2="1054.2" y2="38.6" stroke="#000" stroke-width="3" />
<line x1="1170.1" y1="697.0" x2="1170.1" y2="704.5" stroke="#000" stroke-width="3" />
<line x1="1170.1" y1="24.6" x2="1170.1" y2="32.1" stroke="#000" stroke-width="3" />
<line x1="1286.0" y1="697.0" x2="1286.0" y2="711.0" stroke="#000" stroke-width="3" />
<line x1="1286.0" y1="24.6" x2="1286.0" y2="38.6" stroke="#000" stroke-width="3" />
<line x1="1401.9" y1="697.0" x2="1401.9" y2="704.5" stroke="#000" stroke-width="3" />
<line x1="1401.9" y1="24.6" x2="1401.9" y2="32.1" stroke="#000" stroke-width="3" />
<line x1="1517.8" y1="697.0" x2="1517.8" y2="711.0" stroke="#000" stroke-width="3" />
<line x1="1517.8" y1="24.6" x2="1517.8" y2="38.6" stroke="#000" stroke-width="3" />
<line x1="1633.7" y1="697.0" x2="1633.7" y2="704.5" stroke="#000" stroke-width="3" />
<line x1="1633.7" y1="24.6" x2="1633.7" y2="32.1" stroke="#000" stroke-width="3" />
<line x1="1749.6" y1="697.0" x2="1749.6" y2="711.0" stroke="#000" stroke-width="3" />
<line x1="1749.6" y1="24.6" x2="1749.6" y2="38.6" stroke="#000" stroke-width="3" />
<line x1="1750.0" y1="697.0" x2="1759.0" y2="697.0" stroke="#0000ff" stroke-width="3" />
<line x1="1750.0" y1="652.2" x2="1765.5" y2="652.2" stroke="#0000ff" stroke-width="3" />
<line x1="1750.0" y1="607.4" x2="1759.0" y2="607.4" stroke="#0000ff" stroke-width="3" />
<line x1="1750.0" y1="562.6" x2="1765.5" y2="562.6" stroke="#0000ff" stroke-width="3" />
<line x1="1750.0" y1="517.8" x2="1759.0" y2="517.8" stroke="#0000ff" stroke-width="3" />
<line x1="1750.0" y1="473.0" x2="1765.5" y2="473.0" stroke="#0000ff" stroke-width="3" />
<line x1="1750.0" y1="428.2" x2="1759.0" y2="428.2" stroke="#0000ff" stroke-width="3" />
<line x1="1750.0" y1="383.4" x2="1765.5" y2="383.4" stroke="#0000ff" stroke-width="3" />
<line x1="1750.0" y1="338.6" x2="1759.0" y2="338.6" stroke="#0000ff" stroke-width="3" />
<line x1="1750.0" y1="293.8" x2="1765.5" y2="293.8" stroke="#0000ff" stroke-width="3" />
<line x1="1750.0" y1="249.0" x2="1759.0" y2="249.0" stroke="#0000ff" stroke-width="3" />
<line x1="1750.0" y1="204.2" x2="1765.5" y2="204.2" stroke="#0000ff" stroke-width="3" />
<line x1="1750.0" y1="159.4" x2="1759.0" y2="159.4" stroke="#0000ff" stroke-width="3" />
<line x1="1750.0" y1="114.6" x2="1765.5" y2="114.6" stroke="#0000ff" stroke-width="3" />
<line x1="1750.0" y1="69.8" x2="1759.0" y2="69.8" stroke="#0000ff" stroke-width="3" />
<line x1="1750.0" y1="25.0" x2="1765.5" y2="25.0" stroke="#0000ff" stroke-width="3" />
<rect x="348.6" y="21.4" width="64.3" height="685.5" fill="rgb(218,184,168)" fill-opacity="0.435"/>
<rect x="1152.2" y="21.4" width="479.8" height="685.5" fill="rgb(217,188,174)" fill-opacity="0.345"/>
<rect x="434.5" y="82.6" width="248.4" height="79.3" fill="#fff" stroke="#000" stroke-width="2"/>
<line x1="445.0" y1="103.9" x2="516.5" y2="103.9" stroke="#000" stroke-width="2.4" />
<line x1="445.0" y1="142.1" x2="516.5" y2="142.1" stroke="#0000ff" stroke-width="2.4" />
<text x="524.0" y="112.7" font-size="30" text-anchor="start" fill="#000" font-family="'Liberation Sans', Arial, sans-serif" >Strain_rate</text>
<text x="524.0" y="150.6" font-size="30" text-anchor="start" fill="#000" font-family="'Liberation Sans', Arial, sans-serif" >Strain</text>
<text x="0" y="0" font-size="38.5" text-anchor="end" fill="#000" font-family="'Liberation Sans', Arial, sans-serif" transform="translate(222.2 96.2) scale(0.965 1)" >0.004</text>
<text x="0" y="0" font-size="38.5" text-anchor="end" fill="#000" font-family="'Liberation Sans', Arial, sans-serif" transform="translate(222.2 218.2) scale(0.965 1)" >0.002</text>
<text x="0" y="0" font-size="38.5" text-anchor="end" fill="#000" font-family="'Liberation Sans', Arial, sans-serif" transform="translate(222.2 340.2) scale(0.965 1)" >0.000</text>
<text x="0" y="0" font-size="38.5" text-anchor="end" fill="#000" font-family="'Liberation Sans', Arial, sans-serif" transform="translate(222.2 462.2) scale(0.965 1)" >-0.002</text>
<text x="0" y="0" font-size="38.5" text-anchor="end" fill="#000" font-family="'Liberation Sans', Arial, sans-serif" transform="translate(222.2 584.2) scale(0.965 1)" >-0.004</text>
<text x="0" y="0" font-size="38.5" text-anchor="end" fill="#000" font-family="'Liberation Sans', Arial, sans-serif" transform="translate(222.2 706.2) scale(0.965 1)" >-0.006</text>
<text x="0" y="0" font-size="38.5" text-anchor="middle" fill="#000" font-family="'Liberation Sans', Arial, sans-serif" transform="translate(358.8 746.5) scale(0.945 1)" >0.00</text>
<text x="0" y="0" font-size="38.5" text-anchor="middle" fill="#000" font-family="'Liberation Sans', Arial, sans-serif" transform="translate(590.6 746.5) scale(0.945 1)" >0.05</text>
<text x="0" y="0" font-size="38.5" text-anchor="middle" fill="#000" font-family="'Liberation Sans', Arial, sans-serif" transform="translate(822.4 746.5) scale(0.945 1)" >0.10</text>
<text x="0" y="0" font-size="38.5" text-anchor="middle" fill="#000" font-family="'Liberation Sans', Arial, sans-serif" transform="translate(1054.2 746.5) scale(0.945 1)" >0.15</text>
<text x="0" y="0" font-size="38.5" text-anchor="middle" fill="#000" font-family="'Liberation Sans', Arial, sans-serif" transform="translate(1286.0 746.5) scale(0.945 1)" >0.20</text>
<text x="0" y="0" font-size="38.5" text-anchor="middle" fill="#000" font-family="'Liberation Sans', Arial, sans-serif" transform="translate(1517.8 746.5) scale(0.945 1)" >0.25</text>
<text x="0" y="0" font-size="38.5" text-anchor="middle" fill="#000" font-family="'Liberation Sans', Arial, sans-serif" transform="translate(1749.6 746.5) scale(0.945 1)" >0.30</text>
<text x="0" y="0" font-size="38.5" text-anchor="start" fill="#0000ff" font-family="'Liberation Sans', Arial, sans-serif" transform="translate(1770.8 34.3) scale(0.955 1)" >0.04</text>
<text x="0" y="0" font-size="38.5" text-anchor="start" fill="#0000ff" font-family="'Liberation Sans', Arial, sans-serif" transform="translate(1770.8 123.9) scale(0.955 1)" >0.03</text>
<text x="0" y="0" font-size="38.5" text-anchor="start" fill="#0000ff" font-family="'Liberation Sans', Arial, sans-serif" transform="translate(1770.8 213.5) scale(0.955 1)" >0.02</text>
<text x="0" y="0" font-size="38.5" text-anchor="start" fill="#0000ff" font-family="'Liberation Sans', Arial, sans-serif" transform="translate(1770.8 303.1) scale(0.955 1)" >0.01</text>
<text x="0" y="0" font-size="38.5" text-anchor="start" fill="#0000ff" font-family="'Liberation Sans', Arial, sans-serif" transform="translate(1770.8 392.7) scale(0.955 1)" >0.00</text>
<text x="0" y="0" font-size="38.5" text-anchor="start" fill="#0000ff" font-family="'Liberation Sans', Arial, sans-serif" transform="translate(1770.8 482.3) scale(0.955 1)" >-0.01</text>
<text x="0" y="0" font-size="38.5" text-anchor="start" fill="#0000ff" font-family="'Liberation Sans', Arial, sans-serif" transform="translate(1770.8 571.9) scale(0.955 1)" >-0.02</text>
<text x="0" y="0" font-size="38.5" text-anchor="start" fill="#0000ff" font-family="'Liberation Sans', Arial, sans-serif" transform="translate(1770.8 661.5) scale(0.955 1)" >-0.03</text>
<text x="79.0" y="392.5" font-size="47.5" text-anchor="middle" fill="#000" font-family="'Liberation Sans', Arial, sans-serif" transform="rotate(-90 79.0 392.5)" >Strain_rate</text>
<text x="1908.3" y="385.7" font-size="47.5" text-anchor="middle" fill="#000" font-family="'Liberation Sans', Arial, sans-serif" transform="rotate(-90 1908.3 385.7)" >Strain</text>
<text x="995.5" y="819.4" font-size="47" text-anchor="middle" fill="#000" font-family="'Liberation Sans', Arial, sans-serif" >Time (s)</text>
<text x="91.0" y="832.2" font-size="48" text-anchor="start" fill="#000" font-family="'Liberation Sans', Arial, sans-serif" >a)</text>
<text x="424.0" y="658.0" font-size="44" text-anchor="start" fill="#333" font-family="'Liberation Sans', Arial, sans-serif" textLength="299.0" lengthAdjust="spacingAndGlyphs" >High frequency</text>
<text x="1287.0" y="581.7" font-size="44" text-anchor="start" fill="#2a2a2a" font-family="'Liberation Sans', Arial, sans-serif" textLength="285.0" lengthAdjust="spacingAndGlyphs" >Low frequency</text>
<line x1="227.4" y1="1026.5" x2="227.4" y2="1545.7" stroke="#5a5a5a" stroke-width="1.4" stroke-dasharray="1.4 2.75"/>
<line x1="388.3" y1="1026.5" x2="388.3" y2="1545.7" stroke="#5a5a5a" stroke-width="1.4" stroke-dasharray="1.4 2.75"/>
<line x1="549.2" y1="1026.5" x2="549.2" y2="1545.7" stroke="#5a5a5a" stroke-width="1.4" stroke-dasharray="1.4 2.75"/>
<line x1="710.1" y1="1026.5" x2="710.1" y2="1545.7" stroke="#5a5a5a" stroke-width="1.4" stroke-dasharray="1.4 2.75"/>
<line x1="148.4" y1="1076.5" x2="788.2" y2="1076.5" stroke="#5a5a5a" stroke-width="1.4" stroke-dasharray="1.4 2.75"/>
<line x1="148.4" y1="1181.1" x2="788.2" y2="1181.1" stroke="#5a5a5a" stroke-width="1.4" stroke-dasharray="1.4 2.75"/>
<line x1="148.4" y1="1285.7" x2="788.2" y2="1285.7" stroke="#5a5a5a" stroke-width="1.4" stroke-dasharray="1.4 2.75"/>
<line x1="148.4" y1="1390.3" x2="788.2" y2="1390.3" stroke="#5a5a5a" stroke-width="1.4" stroke-dasharray="1.4 2.75"/>
<line x1="148.4" y1="1494.9" x2="788.2" y2="1494.9" stroke="#5a5a5a" stroke-width="1.4" stroke-dasharray="1.4 2.75"/>
<polyline points="241.6,1157.9 262.4,1158.5 276.9,1159.4 305.9,1151.9 312.1,1151.1 341.2,1151.1 347.4,1170.4 359.8,1210.8 372.3,1250.2 383.0,1293.0 392.3,1332.7 406.8,1399.0 422.7,1445.4 436.0,1496.4 449.2,1465.2 469.1,1416.2 473.1,1392.4 478.4,1359.2 485.0,1312.9 493.5,1260.0 502.5,1212.2 523.4,1137.3 533.9,1102.9 536.9,1100.7 544.4,1095.4 557.9,1083.4 565.4,1076.7 584.8,1102.9 598.3,1123.9 608.8,1159.8 617.8,1183.8 628.3,1218.2 632.8,1224.2 648.0,1244.9 661.5,1259.4 695.2,1242.8" fill="none" stroke="#000" stroke-width="4.4" stroke-linejoin="round" stroke-linecap="round" />
<polyline points="236.3,1382.9 238.6,1381.2 253.0,1373.7 260.5,1370.5 274.9,1371.2 315.2,1351.8 363.6,1330.0 368.8,1328.2 372.8,1320.7 378.0,1317.3 381.5,1318.4 389.0,1336.9 396.2,1367.2 401.5,1399.0 409.5,1438.7 420.1,1478.5 425.0,1490.0 430.7,1496.4 436.0,1492.0 442.6,1478.5 454.5,1432.1 462.5,1399.0 470.4,1372.5 482.4,1319.5 496.5,1260.0 505.5,1204.7 517.4,1132.9 526.4,1099.9 535.4,1083.4 545.9,1076.7 556.4,1087.9 566.9,1114.9 575.9,1137.3 587.8,1147.1 599.8,1137.3 612.5,1116.4 620.8,1126.9 629.8,1159.8 641.7,1204.7 651.1,1245.9 661.5,1282.2 668.7,1308.1 676.0,1323.7 684.3,1328.4 690.5,1328.4 698.8,1322.7 707.1,1313.8 711.2,1312.8" fill="none" stroke="#ff0000" stroke-width="4.4" stroke-linejoin="round" stroke-linecap="round" />
<rect x="146.4" y="1024.5" width="643.8" height="523.2" fill="none" stroke="#000" stroke-width="2.2"/>
<line x1="227.4" y1="1547.7" x2="227.4" y2="1557.7" stroke="#000" stroke-width="2" />
<line x1="388.3" y1="1547.7" x2="388.3" y2="1557.7" stroke="#000" stroke-width="2" />
<line x1="549.2" y1="1547.7" x2="549.2" y2="1557.7" stroke="#000" stroke-width="2" />
<line x1="710.1" y1="1547.7" x2="710.1" y2="1557.7" stroke="#000" stroke-width="2" />
<line x1="146.9" y1="1547.7" x2="146.9" y2="1553.2" stroke="#000" stroke-width="2" />
<line x1="307.9" y1="1547.7" x2="307.9" y2="1553.2" stroke="#000" stroke-width="2" />
<line x1="468.8" y1="1547.7" x2="468.8" y2="1553.2" stroke="#000" stroke-width="2" />
<line x1="629.6" y1="1547.7" x2="629.6" y2="1553.2" stroke="#000" stroke-width="2" />
<line x1="790.5" y1="1547.7" x2="790.5" y2="1553.2" stroke="#000" stroke-width="2" />
<line x1="135.9" y1="1076.5" x2="146.4" y2="1076.5" stroke="#000" stroke-width="2" />
<line x1="135.9" y1="1181.1" x2="146.4" y2="1181.1" stroke="#000" stroke-width="2" />
<line x1="135.9" y1="1285.7" x2="146.4" y2="1285.7" stroke="#000" stroke-width="2" />
<line x1="135.9" y1="1390.3" x2="146.4" y2="1390.3" stroke="#000" stroke-width="2" />
<line x1="135.9" y1="1494.9" x2="146.4" y2="1494.9" stroke="#000" stroke-width="2" />
<line x1="140.9" y1="1024.2" x2="146.4" y2="1024.2" stroke="#000" stroke-width="2" />
<line x1="140.9" y1="1128.8" x2="146.4" y2="1128.8" stroke="#000" stroke-width="2" />
<line x1="140.9" y1="1233.4" x2="146.4" y2="1233.4" stroke="#000" stroke-width="2" />
<line x1="140.9" y1="1338.0" x2="146.4" y2="1338.0" stroke="#000" stroke-width="2" />
<line x1="140.9" y1="1442.6" x2="146.4" y2="1442.6" stroke="#000" stroke-width="2" />
<line x1="140.9" y1="1547.2" x2="146.4" y2="1547.2" stroke="#000" stroke-width="2" />
<text x="227.4" y="1586.0" font-size="27.8" text-anchor="middle" fill="#000" font-family="'Liberation Sans', Arial, sans-serif" >0.000</text>
<text x="388.3" y="1586.0" font-size="27.8" text-anchor="middle" fill="#000" font-family="'Liberation Sans', Arial, sans-serif" >0.002</text>
<text x="549.2" y="1586.0" font-size="27.8" text-anchor="middle" fill="#000" font-family="'Liberation Sans', Arial, sans-serif" >0.004</text>
<text x="710.1" y="1586.0" font-size="27.8" text-anchor="middle" fill="#000" font-family="'Liberation Sans', Arial, sans-serif" >0.006</text>
<text x="128.5" y="1085.5" font-size="27.8" text-anchor="end" fill="#000" font-family="'Liberation Sans', Arial, sans-serif" >1.0</text>
<text x="128.5" y="1190.1" font-size="27.8" text-anchor="end" fill="#000" font-family="'Liberation Sans', Arial, sans-serif" >0.5</text>
<text x="128.5" y="1294.7" font-size="27.8" text-anchor="end" fill="#000" font-family="'Liberation Sans', Arial, sans-serif" >0.0</text>
<text x="128.5" y="1399.3" font-size="27.8" text-anchor="end" fill="#000" font-family="'Liberation Sans', Arial, sans-serif" >-0.5</text>
<text x="128.5" y="1503.9" font-size="27.8" text-anchor="end" fill="#000" font-family="'Liberation Sans', Arial, sans-serif" >-1.0</text>
<rect x="597.7" y="1038.1" width="189.8" height="71.3" fill="#fff" stroke="#333" stroke-width="1.5"/>
<line x1="605.3" y1="1056.4" x2="674.4" y2="1056.4" stroke="#000" stroke-width="4.4" />
<line x1="605.3" y1="1092.9" x2="674.4" y2="1092.9" stroke="#ff0000" stroke-width="4.4" />
<text x="682.7" y="1066.9" font-size="29" text-anchor="start" fill="#000" font-family="'Liberation Sans', Arial, sans-serif" >Strain</text>
<text x="682.7" y="1101.7" font-size="29" text-anchor="start" fill="#000" font-family="'Liberation Sans', Arial, sans-serif" >Voltage</text>
<text x="281.0" y="988.2" font-size="49" text-anchor="start" fill="#000" font-family="'Liberation Sans', Arial, sans-serif" textLength="347.0" lengthAdjust="spacingAndGlyphs" >High Frequency</text>
<text x="469.0" y="1642.0" font-size="38" text-anchor="middle" fill="#000" font-family="'Liberation Sans', Arial, sans-serif" >Time(s)</text>
<text x="39.6" y="1310.1" font-size="37" text-anchor="middle" fill="#000" font-family="'Liberation Sans', Arial, sans-serif" transform="rotate(-90 39.6 1310.1)" xml:space="preserve">Normlised ∫Voltage  /  Strain</text>
<line x1="149.6" y1="1715.3" x2="149.6" y2="2235.3" stroke="#5a5a5a" stroke-width="1.4" stroke-dasharray="1.4 2.75"/>
<line x1="256.5" y1="1715.3" x2="256.5" y2="2235.3" stroke="#5a5a5a" stroke-width="1.4" stroke-dasharray="1.4 2.75"/>
<line x1="363.4" y1="1715.3" x2="363.4" y2="2235.3" stroke="#5a5a5a" stroke-width="1.4" stroke-dasharray="1.4 2.75"/>
<line x1="470.3" y1="1715.3" x2="470.3" y2="2235.3" stroke="#5a5a5a" stroke-width="1.4" stroke-dasharray="1.4 2.75"/>
<line x1="577.2" y1="1715.3" x2="577.2" y2="2235.3" stroke="#5a5a5a" stroke-width="1.4" stroke-dasharray="1.4 2.75"/>
<line x1="684.1" y1="1715.3" x2="684.1" y2="2235.3" stroke="#5a5a5a" stroke-width="1.4" stroke-dasharray="1.4 2.75"/>
<line x1="146.7" y1="1818.1" x2="788.3" y2="1818.1" stroke="#5a5a5a" stroke-width="1.4" stroke-dasharray="1.4 2.75"/>
<line x1="146.7" y1="1922.9" x2="788.3" y2="1922.9" stroke="#5a5a5a" stroke-width="1.4" stroke-dasharray="1.4 2.75"/>
<line x1="146.7" y1="2027.7" x2="788.3" y2="2027.7" stroke="#5a5a5a" stroke-width="1.4" stroke-dasharray="1.4 2.75"/>
<line x1="146.7" y1="2132.5" x2="788.3" y2="2132.5" stroke="#5a5a5a" stroke-width="1.4" stroke-dasharray="1.4 2.75"/>
<polyline points="149.0,1901.7 239.6,1787.1 327.0,1752.6 416.8,1807.1 505.2,1932.9 596.5,2001.4 683.6,2055.9 772.8,2186.6" fill="none" stroke="#000" stroke-width="4.4" stroke-linejoin="round" stroke-linecap="round" />
<polyline points="149.0,1958.3 238.5,1766.4 327.0,1769.8 505.2,1891.4 593.7,2087.7 683.6,1951.7 773.4,1995.1" fill="none" stroke="#ff0000" stroke-width="4.4" stroke-linejoin="round" stroke-linecap="round" />
<rect x="144.7" y="1713.3" width="645.6" height="524.0" fill="none" stroke="#000" stroke-width="2.2"/>
<line x1="149.6" y1="2237.3" x2="149.6" y2="2247.3" stroke="#000" stroke-width="2" />
<line x1="256.5" y1="2237.3" x2="256.5" y2="2247.3" stroke="#000" stroke-width="2" />
<line x1="363.4" y1="2237.3" x2="363.4" y2="2247.3" stroke="#000" stroke-width="2" />
<line x1="470.3" y1="2237.3" x2="470.3" y2="2247.3" stroke="#000" stroke-width="2" />
<line x1="577.2" y1="2237.3" x2="577.2" y2="2247.3" stroke="#000" stroke-width="2" />
<line x1="684.1" y1="2237.3" x2="684.1" y2="2247.3" stroke="#000" stroke-width="2" />
<line x1="791.0" y1="2237.3" x2="791.0" y2="2247.3" stroke="#000" stroke-width="2" />
<line x1="203.0" y1="2237.3" x2="203.0" y2="2242.8" stroke="#000" stroke-width="2" />
<line x1="309.9" y1="2237.3" x2="309.9" y2="2242.8" stroke="#000" stroke-width="2" />
<line x1="416.9" y1="2237.3" x2="416.9" y2="2242.8" stroke="#000" stroke-width="2" />
<line x1="523.8" y1="2237.3" x2="523.8" y2="2242.8" stroke="#000" stroke-width="2" />
<line x1="630.6" y1="2237.3" x2="630.6" y2="2242.8" stroke="#000" stroke-width="2" />
<line x1="737.5" y1="2237.3" x2="737.5" y2="2242.8" stroke="#000" stroke-width="2" />
<line x1="134.2" y1="1713.3" x2="144.7" y2="1713.3" stroke="#000" stroke-width="2" />
<line x1="134.2" y1="1818.1" x2="144.7" y2="1818.1" stroke="#000" stroke-width="2" />
<line x1="134.2" y1="1922.9" x2="144.7" y2="1922.9" stroke="#000" stroke-width="2" />
<line x1="134.2" y1="2027.7" x2="144.7" y2="2027.7" stroke="#000" stroke-width="2" />
<line x1="134.2" y1="2132.5" x2="144.7" y2="2132.5" stroke="#000" stroke-width="2" />
<line x1="134.2" y1="2237.3" x2="144.7" y2="2237.3" stroke="#000" stroke-width="2" />
<line x1="139.2" y1="1765.7" x2="144.7" y2="1765.7" stroke="#000" stroke-width="2" />
<line x1="139.2" y1="1870.5" x2="144.7" y2="1870.5" stroke="#000" stroke-width="2" />
<line x1="139.2" y1="1975.3" x2="144.7" y2="1975.3" stroke="#000" stroke-width="2" />
<line x1="139.2" y1="2080.1" x2="144.7" y2="2080.1" stroke="#000" stroke-width="2" />
<line x1="139.2" y1="2184.9" x2="144.7" y2="2184.9" stroke="#000" stroke-width="2" />
<text x="149.6" y="2276.5" font-size="27.8" text-anchor="middle" fill="#000" font-family="'Liberation Sans', Arial, sans-serif" >0</text>
<text x="256.5" y="2276.5" font-size="27.8" text-anchor="middle" fill="#000" font-family="'Liberation Sans', Arial, sans-serif" >200</text>
<text x="363.4" y="2276.5" font-size="27.8" text-anchor="middle" fill="#000" font-family="'Liberation Sans', Arial, sans-serif" >400</text>
<text x="470.3" y="2276.5" font-size="27.8" text-anchor="middle" fill="#000" font-family="'Liberation Sans', Arial, sans-serif" >600</text>
<text x="577.2" y="2276.5" font-size="27.8" text-anchor="middle" fill="#000" font-family="'Liberation Sans', Arial, sans-serif" >800</text>
<text x="684.1" y="2276.5" font-size="27.8" text-anchor="middle" fill="#000" font-family="'Liberation Sans', Arial, sans-serif" >1000</text>
<text x="791.0" y="2276.5" font-size="27.8" text-anchor="middle" fill="#000" font-family="'Liberation Sans', Arial, sans-serif" >1200</text>
<text x="126.8" y="1722.3" font-size="27.8" text-anchor="end" fill="#000" font-family="'Liberation Sans', Arial, sans-serif" >0</text>
<text x="126.8" y="1827.1" font-size="27.8" text-anchor="end" fill="#000" font-family="'Liberation Sans', Arial, sans-serif" >-10</text>
<text x="126.8" y="1931.9" font-size="27.8" text-anchor="end" fill="#000" font-family="'Liberation Sans', Arial, sans-serif" >-20</text>
<text x="126.8" y="2036.7" font-size="27.8" text-anchor="end" fill="#000" font-family="'Liberation Sans', Arial, sans-serif" >-30</text>
<text x="126.8" y="2141.5" font-size="27.8" text-anchor="end" fill="#000" font-family="'Liberation Sans', Arial, sans-serif" >-40</text>
<text x="126.8" y="2246.3" font-size="27.8" text-anchor="end" fill="#000" font-family="'Liberation Sans', Arial, sans-serif" >-50</text>
<rect x="429" y="1743.8" width="190.5" height="72.1" fill="#fff" stroke="#333" stroke-width="1.5"/>
<line x1="436.3" y1="1763.2" x2="505.8" y2="1763.2" stroke="#ff0000" stroke-width="4.4" />
<line x1="436.3" y1="1799.8" x2="505.8" y2="1799.8" stroke="#000" stroke-width="4.4" />
<text x="514.0" y="1771.8" font-size="29" text-anchor="start" fill="#000" font-family="'Liberation Sans', Arial, sans-serif" >Voltage</text>
<text x="514.0" y="1809.5" font-size="29" text-anchor="start" fill="#000" font-family="'Liberation Sans', Arial, sans-serif" >Strain</text>
<text x="467.4" y="2331.8" font-size="37.3" text-anchor="middle" fill="#000" font-family="'Liberation Sans', Arial, sans-serif" >Frequency (Hz)</text>
<text x="30.0" y="2324.9" font-size="48" text-anchor="start" fill="#000" font-family="'Liberation Sans', Arial, sans-serif" >b)</text>
<text x="47.7" y="1999.5" font-size="37.5" text-anchor="middle" fill="#000" font-family="'Liberation Sans', Arial, sans-serif" transform="rotate(-90 47.7 1999.5)" xml:space="preserve">dB( ∫Voltage  /  Strain)</text>
<line x1="1198.6" y1="1018.1" x2="1198.6" y2="1548.8" stroke="#5a5a5a" stroke-width="1.4" stroke-dasharray="1.4 2.75"/>
<line x1="1328.6" y1="1018.1" x2="1328.6" y2="1548.8" stroke="#5a5a5a" stroke-width="1.4" stroke-dasharray="1.4 2.75"/>
<line x1="1458.7" y1="1018.1" x2="1458.7" y2="1548.8" stroke="#5a5a5a" stroke-width="1.4" stroke-dasharray="1.4 2.75"/>
<line x1="1588.8" y1="1018.1" x2="1588.8" y2="1548.8" stroke="#5a5a5a" stroke-width="1.4" stroke-dasharray="1.4 2.75"/>
<line x1="1718.8" y1="1018.1" x2="1718.8" y2="1548.8" stroke="#5a5a5a" stroke-width="1.4" stroke-dasharray="1.4 2.75"/>
<line x1="1193.6" y1="1069.7" x2="1847.0" y2="1069.7" stroke="#5a5a5a" stroke-width="1.4" stroke-dasharray="1.4 2.75"/>
<line x1="1193.6" y1="1176.4" x2="1847.0" y2="1176.4" stroke="#5a5a5a" stroke-width="1.4" stroke-dasharray="1.4 2.75"/>
<line x1="1193.6" y1="1283.1" x2="1847.0" y2="1283.1" stroke="#5a5a5a" stroke-width="1.4" stroke-dasharray="1.4 2.75"/>
<line x1="1193.6" y1="1389.8" x2="1847.0" y2="1389.8" stroke="#5a5a5a" stroke-width="1.4" stroke-dasharray="1.4 2.75"/>
<line x1="1193.6" y1="1496.5" x2="1847.0" y2="1496.5" stroke="#5a5a5a" stroke-width="1.4" stroke-dasharray="1.4 2.75"/>
<polyline points="1197.8,1378.5 1202.3,1394.2 1205.7,1412.1 1211.3,1421.1 1214.7,1434.5 1219.1,1452.5 1223.6,1453.6 1228.1,1439.0 1231.5,1421.1 1234.8,1414.4 1238.2,1400.9 1241.6,1380.7 1244.9,1365.0 1249.4,1353.8 1253.9,1340.4 1257.2,1322.4 1261.7,1300.0 1266.2,1275.4 1268.5,1257.4 1272.9,1244.0 1277.4,1244.0 1281.9,1242.9 1285.3,1239.5 1288.6,1223.8 1292.0,1221.6 1296.5,1223.8 1299.8,1228.3 1303.2,1223.8 1307.7,1217.1 1311.0,1203.6 1314.4,1183.5 1316.7,1181.2 1320.0,1186.8 1324.5,1189.1 1329.0,1184.6 1333.5,1176.7 1336.8,1158.8 1340.2,1136.4 1343.6,1118.5 1346.9,1105.0 1351.4,1093.8 1355.9,1087.1 1360.4,1079.2 1364.8,1069.1 1369.3,1073.6 1371.6,1080.3 1373.8,1096.0 1376.1,1114.0 1379.4,1136.4 1382.8,1158.8 1386.1,1179.0 1389.5,1196.9 1392.9,1217.1 1396.2,1239.5 1398.5,1261.9 1401.8,1284.3 1405.2,1304.5 1408.6,1322.4 1411.9,1338.1 1416.4,1353.8 1416.7,1353.8 1421.2,1365.0 1425.7,1376.2 1430.2,1389.7 1433.5,1391.9 1436.9,1385.2 1441.4,1380.7 1444.7,1376.2 1448.1,1362.8 1451.5,1349.3 1454.8,1342.6 1459.3,1338.1 1462.7,1331.4 1466.0,1309.0 1469.4,1288.8 1472.8,1284.3 1476.1,1273.1 1479.5,1268.6 1482.9,1268.6 1486.2,1255.2 1489.6,1244.0 1494.1,1233.9 1498.5,1230.5 1504.1,1231.7 1508.6,1235.0 1513.1,1240.6 1516.5,1248.5 1519.8,1251.8 1523.2,1259.7 1526.6,1265.3 1529.9,1270.9 1533.3,1276.5 1536.7,1281.0 1540.0,1277.6 1544.5,1268.6 1546.7,1266.4 1549.0,1270.9 1553.5,1266.4 1557.9,1258.6 1561.3,1254.1 1566.9,1251.8 1571.4,1249.6 1574.8,1246.2 1578.1,1250.7 1581.5,1251.8 1584.8,1241.7 1588.9,1231.7 1591.6,1235.0 1594.9,1239.5 1599.4,1237.3 1601.7,1244.0 1605.0,1255.2 1608.4,1266.4 1611.7,1279.9 1615.1,1295.5 1618.5,1311.2 1621.8,1329.2 1625.2,1340.4 1628.6,1344.9 1631.9,1351.6 1635.3,1360.6 1639.0,1383.0 1642.3,1394.2 1645.7,1405.4 1647.9,1421.1 1651.3,1439.0 1654.7,1454.7 1658.0,1465.9 1662.5,1472.6 1664.7,1483.8 1667.0,1495.1 1670.3,1490.6 1674.8,1485.0 1678.2,1487.2 1681.6,1483.8 1684.9,1470.4 1688.3,1456.9 1691.6,1443.5 1696.1,1427.8 1700.6,1414.4 1705.1,1403.1 1708.5,1394.2 1711.8,1391.9 1715.2,1385.2 1718.5,1381.9 1720.8,1388.6 1724.1,1386.3 1727.5,1381.9 1729.8,1379.6 1733.1,1384.1 1736.5,1383.0 1739.8,1380.7 1744.3,1379.6 1747.7,1387.5 1752.2,1393.1 1755.5,1398.7 1758.9,1409.9 1762.3,1414.4 1766.7,1417.7 1770.8,1425.6 1773.5,1414.4 1776.8,1400.9 1780.2,1389.7 1783.6,1380.7 1786.9,1365.0 1790.3,1353.8 1793.6,1347.1 1798.1,1340.4 1801.5,1335.9 1804.8,1342.6 1808.2,1360.6 1811.6,1376.2 1814.9,1389.7 1818.3,1409.9 1821.7,1430.0 1825.0,1445.7 1828.4,1461.4 1831.7,1474.9 1835.1,1486.1 1838.5,1495.1 1841.8,1497.3" fill="none" stroke="#ff0000" stroke-width="2.3" stroke-linejoin="round" stroke-linecap="round" />
<polyline points="1197.8,1254.7 1197.8,1254.1 1198.7,1251.6 1199.6,1251.4 1200.5,1248.1 1201.2,1247.4 1201.4,1247.9 1202.3,1246.3 1203.2,1247.1 1204.1,1245.7 1204.6,1246.2 1205.0,1249.7 1205.9,1253.2 1206.1,1255.2 1206.8,1272.0 1207.5,1286.6 1207.7,1294.8 1208.6,1325.9 1209.1,1339.3 1209.5,1334.7 1210.4,1329.6 1211.3,1322.4 1211.3,1321.9 1212.2,1319.4 1213.1,1313.6 1214.0,1311.6 1214.2,1310.1 1214.9,1313.4 1215.8,1319.5 1216.5,1322.4 1216.7,1323.9 1217.6,1330.1 1218.5,1334.3 1219.1,1338.1 1219.4,1337.8 1220.3,1334.7 1221.2,1333.2 1221.4,1332.5 1222.1,1336.9 1223.0,1344.0 1223.6,1347.1 1223.9,1345.6 1224.8,1345.3 1225.7,1342.1 1225.9,1342.6 1226.6,1343.3 1227.5,1341.9 1228.4,1343.2 1229.2,1342.6 1229.3,1342.9 1230.2,1350.7 1231.1,1355.0 1231.5,1358.3 1232.0,1363.0 1232.9,1367.4 1233.8,1374.7 1234.7,1379.7 1234.8,1380.7 1235.6,1394.2 1236.0,1398.7 1236.5,1397.7 1237.4,1398.0 1238.2,1396.4 1238.3,1397.5 1239.2,1408.9 1240.1,1417.3 1240.4,1421.1 1241.0,1434.2 1241.9,1450.4 1242.7,1465.9 1242.8,1467.3 1243.7,1472.6 1244.6,1480.0 1245.5,1484.4 1246.0,1488.3 1246.4,1491.3 1247.3,1494.3 1247.8,1497.3 1248.2,1494.6 1249.1,1486.7 1250.0,1481.6 1250.5,1477.1 1250.9,1475.4 1251.8,1473.5 1252.7,1469.9 1252.8,1470.4 1253.6,1469.6 1254.5,1466.0 1255.0,1465.9 1255.4,1459.7 1256.3,1445.4 1256.8,1439.0 1257.2,1439.8 1258.1,1439.8 1259.0,1441.7 1259.5,1441.3 1259.9,1440.4 1260.8,1440.6 1261.7,1439.0 1261.7,1438.3 1262.6,1429.4 1263.5,1418.3 1264.0,1414.4 1264.4,1407.7 1265.3,1393.0 1266.2,1380.7 1266.2,1381.2 1267.1,1383.2 1268.0,1387.3 1268.9,1389.7 1268.9,1389.4 1269.8,1394.9 1270.7,1397.0 1271.6,1402.4 1272.5,1405.0 1272.9,1407.6 1273.4,1406.1 1274.3,1401.4 1275.2,1399.3 1276.1,1394.1 1276.3,1394.2 1277.0,1392.6 1277.9,1388.8 1278.8,1387.9 1279.7,1385.2 1279.7,1384.5 1280.6,1382.8 1281.5,1378.4 1282.4,1376.5 1283.0,1374.0 1283.3,1371.4 1284.2,1365.8 1285.1,1358.5 1285.3,1358.3 1286.0,1349.5 1286.9,1337.5 1287.5,1331.4 1287.8,1327.0 1288.7,1312.3 1289.6,1300.4 1289.8,1297.8 1290.5,1287.6 1291.4,1278.2 1292.0,1270.9 1292.3,1267.9 1293.2,1263.8 1294.1,1257.6 1295.0,1253.5 1295.4,1250.7 1295.9,1246.3 1296.8,1242.3 1297.6,1237.3 1297.7,1236.2 1298.6,1233.9 1299.5,1228.5 1300.4,1226.3 1301.0,1223.8 1301.3,1222.2 1302.2,1222.7 1303.1,1219.6 1304.0,1219.5 1304.9,1217.1 1305.8,1216.3 1306.6,1214.8 1306.7,1213.2 1307.6,1211.0 1308.5,1206.1 1309.4,1203.8 1310.3,1198.9 1311.0,1196.9 1311.2,1196.5 1312.1,1189.8 1313.0,1185.4 1313.9,1178.7 1314.4,1176.7 1314.8,1174.5 1315.7,1168.3 1316.6,1164.0 1317.5,1157.0 1317.8,1156.6 1318.4,1153.6 1319.3,1147.4 1320.2,1143.9 1321.1,1137.6 1322.0,1133.4 1322.3,1131.9 1322.9,1128.2 1323.8,1125.1 1324.7,1120.0 1325.6,1116.2 1325.6,1116.6 1326.5,1116.0 1327.4,1117.5 1328.3,1116.7 1329.0,1117.3 1329.2,1118.3 1330.1,1118.2 1331.0,1121.4 1331.2,1120.7 1331.9,1120.1 1332.8,1121.9 1333.7,1120.6 1334.6,1122.0 1335.5,1121.5 1335.7,1121.8 1336.4,1121.8 1337.3,1120.1 1338.2,1121.3 1339.1,1119.1 1340.0,1120.0 1340.2,1119.6 1340.9,1117.1 1341.8,1116.4 1342.7,1112.8 1343.6,1111.7 1343.6,1111.9 1344.5,1106.8 1345.4,1104.5 1346.3,1099.9 1346.9,1098.3 1347.2,1097.9 1348.1,1092.7 1349.0,1091.1 1349.9,1086.1 1350.8,1084.4 1351.4,1081.5 1351.7,1079.9 1352.6,1079.8 1353.5,1076.8 1354.4,1076.9 1355.3,1073.5 1356.2,1073.3 1357.0,1071.4 1357.1,1070.6 1358.0,1073.0 1358.9,1072.0 1359.8,1074.0 1360.4,1073.6 1360.7,1074.0 1361.6,1077.5 1362.5,1078.3 1363.4,1081.7 1364.3,1082.8 1364.8,1084.8 1365.2,1086.6 1366.1,1086.5 1367.0,1090.0 1367.9,1090.5 1368.8,1093.6 1369.3,1093.8 1369.7,1094.1 1370.6,1097.7 1371.5,1098.4 1372.4,1101.9 1373.3,1103.0 1373.8,1105.0 1374.2,1104.9 1375.1,1103.0 1376.0,1103.4 1376.9,1101.4 1377.8,1101.8 1378.3,1100.5 1378.7,1099.8 1379.6,1100.9 1380.5,1099.0 1381.4,1100.2 1382.3,1099.2 1382.8,1099.4 1383.2,1100.1 1384.1,1099.3 1385.0,1101.0 1385.9,1100.6 1386.8,1102.4 1387.3,1101.6 1387.7,1101.7 1388.6,1104.7 1389.5,1104.7 1390.4,1107.7 1391.3,1108.0 1391.7,1109.5 1392.2,1110.8 1393.1,1111.3 1394.0,1114.4 1394.9,1114.1 1395.8,1117.6 1396.2,1117.3 1396.7,1118.6 1397.6,1123.0 1398.5,1125.2 1398.5,1136.2 1398.9,1196.9 1399.4,1232.2 1399.6,1241.7 1400.3,1286.6 1400.3,1288.8 1401.2,1322.4 1401.8,1342.6 1402.1,1348.6 1403.0,1370.2 1403.4,1377.4 1403.9,1370.7 1404.8,1362.6 1405.2,1358.3 1405.7,1349.9 1406.6,1337.7 1407.5,1323.4 1408.4,1311.1 1408.6,1309.0 1409.3,1300.6 1410.2,1292.9 1411.1,1282.5 1411.9,1275.4 1412.0,1274.7 1412.9,1264.3 1413.8,1257.1 1414.2,1253.0 1414.7,1247.6 1415.6,1241.3 1416.0,1238.4 1416.5,1249.2 1416.7,1253.0 1417.4,1270.1 1418.3,1289.1 1418.5,1293.3 1419.2,1288.9 1420.1,1282.1 1420.1,1281.0 1421.0,1275.8 1421.7,1270.9 1421.9,1270.4 1422.8,1272.7 1423.4,1273.1 1423.7,1277.5 1424.6,1291.1 1424.6,1293.6 1425.5,1315.8 1426.1,1331.4 1426.4,1338.0 1427.3,1353.6 1427.9,1365.0 1428.2,1368.9 1429.1,1378.0 1430.0,1389.0 1430.2,1389.7 1430.9,1393.7 1431.8,1400.5 1432.4,1403.1 1432.7,1404.4 1433.6,1411.4 1434.5,1415.0 1434.7,1416.6 1435.4,1419.7 1436.3,1421.2 1436.9,1423.3 1437.2,1423.5 1438.1,1421.2 1439.0,1420.8 1439.9,1418.6 1440.3,1418.8 1440.8,1421.4 1441.7,1422.9 1442.5,1425.6 1442.6,1426.5 1443.5,1428.5 1444.4,1432.8 1445.3,1434.4 1445.9,1436.8 1446.2,1434.8 1447.1,1427.0 1448.0,1422.1 1448.1,1421.1 1448.9,1417.4 1449.8,1416.2 1450.7,1411.9 1451.5,1409.9 1451.6,1410.0 1452.5,1404.0 1453.4,1401.0 1454.3,1395.8 1454.8,1394.2 1455.2,1392.2 1456.1,1384.5 1457.0,1380.0 1457.9,1372.7 1458.2,1371.8 1458.8,1366.2 1459.7,1355.4 1460.4,1349.3 1460.6,1348.5 1461.5,1339.1 1462.4,1332.7 1463.3,1323.7 1463.8,1320.2 1464.2,1317.1 1465.1,1307.7 1466.0,1301.5 1466.9,1292.1 1467.2,1291.1 1467.8,1287.9 1468.7,1281.7 1469.6,1278.8 1470.5,1273.1 1470.5,1272.0 1471.4,1269.5 1472.3,1263.8 1473.2,1261.0 1473.9,1257.4 1474.1,1255.0 1475.0,1251.4 1475.9,1244.5 1476.8,1240.0 1477.2,1237.3 1477.7,1233.7 1478.6,1229.6 1479.5,1222.6 1480.4,1218.7 1481.3,1212.4 1481.7,1210.4 1482.2,1207.6 1483.1,1200.1 1484.0,1195.0 1484.9,1187.5 1485.8,1182.1 1486.2,1179.0 1486.7,1175.5 1487.6,1172.2 1488.5,1166.9 1489.4,1163.5 1489.6,1162.2 1490.3,1159.6 1491.2,1159.2 1492.1,1155.4 1492.9,1154.3 1493.0,1155.1 1493.9,1151.9 1494.8,1152.0 1495.7,1149.1 1496.6,1148.3 1497.4,1146.5 1497.5,1145.7 1498.4,1145.7 1499.3,1143.3 1500.2,1143.7 1501.1,1141.2 1501.9,1140.9 1502.0,1141.6 1502.9,1139.1 1503.8,1139.5 1504.7,1137.5 1505.6,1138.0 1506.4,1136.4 1506.5,1135.4 1507.4,1136.2 1508.3,1134.3 1509.2,1135.7 1510.1,1133.5 1510.9,1133.7 1511.0,1134.4 1511.9,1133.4 1512.8,1134.6 1513.7,1133.3 1514.6,1134.8 1515.4,1134.1 1515.5,1133.8 1516.4,1134.7 1517.3,1132.7 1518.2,1133.6 1519.1,1131.8 1519.8,1132.4 1520.0,1133.2 1520.9,1132.7 1521.8,1134.9 1522.7,1134.6 1523.6,1136.5 1524.3,1136.4 1524.5,1136.1 1525.4,1139.0 1526.3,1138.5 1527.2,1141.3 1528.1,1141.5 1528.8,1143.1 1529.0,1144.1 1529.9,1145.5 1530.8,1149.4 1531.7,1150.0 1532.2,1152.1 1532.6,1157.5 1533.3,1163.3 1533.5,1163.3 1534.4,1166.0 1535.3,1166.7 1536.2,1170.1 1537.1,1170.6 1537.8,1172.3 1538.0,1173.5 1538.9,1173.7 1539.8,1175.8 1540.7,1176.3 1541.6,1178.8 1542.3,1179.0 1542.5,1178.4 1543.4,1179.2 1544.3,1177.7 1545.2,1178.6 1546.1,1177.2 1546.7,1177.9 1547.0,1178.1 1547.9,1176.6 1548.8,1177.3 1549.7,1175.9 1550.6,1176.6 1551.2,1175.6 1551.5,1175.3 1552.4,1177.4 1553.3,1177.2 1554.2,1179.3 1555.1,1179.1 1555.7,1180.1 1556.0,1181.1 1556.9,1181.2 1557.8,1184.1 1558.7,1184.0 1559.6,1186.9 1560.2,1186.8 1560.5,1186.7 1561.4,1189.9 1562.3,1190.1 1563.2,1193.0 1564.1,1192.9 1564.7,1194.7 1565.0,1196.1 1565.9,1195.7 1566.8,1197.9 1567.7,1197.6 1568.6,1200.1 1569.2,1200.3 1569.5,1199.8 1570.4,1202.8 1571.3,1202.6 1572.2,1204.6 1573.1,1204.5 1573.6,1205.9 1574.0,1206.6 1574.9,1206.4 1575.8,1208.2 1576.7,1207.4 1577.0,1208.1 1577.6,1241.1 1577.7,1241.7 1578.5,1284.9 1578.6,1286.6 1579.4,1309.0 1579.9,1320.2 1580.3,1323.3 1581.2,1332.5 1582.1,1339.8 1582.2,1340.4 1583.0,1343.7 1583.7,1344.9 1583.9,1342.0 1584.8,1335.8 1585.7,1326.3 1586.0,1324.7 1586.6,1317.2 1587.5,1304.9 1588.2,1297.8 1588.4,1296.4 1589.3,1287.4 1590.2,1280.9 1590.5,1278.7 1591.1,1297.1 1591.6,1309.0 1592.0,1318.2 1592.9,1334.4 1593.4,1342.6 1593.8,1346.5 1594.7,1351.2 1595.6,1358.5 1596.1,1360.6 1596.5,1359.8 1597.4,1360.1 1598.3,1358.6 1599.2,1359.3 1599.4,1358.3 1600.1,1359.3 1601.0,1363.6 1601.9,1364.7 1602.8,1367.3 1602.8,1367.8 1603.7,1368.2 1604.6,1371.6 1605.5,1372.0 1606.1,1374.0 1606.4,1374.9 1607.3,1375.0 1608.2,1377.5 1609.1,1377.4 1609.5,1378.5 1610.0,1378.7 1610.9,1376.7 1611.8,1376.9 1612.7,1374.4 1613.6,1374.8 1614.0,1374.0 1614.5,1373.1 1615.4,1374.1 1616.3,1372.2 1617.2,1372.8 1618.1,1371.5 1618.5,1371.8 1619.0,1372.3 1619.9,1371.1 1620.8,1372.1 1621.7,1370.1 1622.6,1371.5 1623.0,1370.6 1623.5,1369.2 1624.4,1369.9 1625.3,1367.7 1626.2,1368.1 1626.3,1367.3 1627.1,1361.7 1628.0,1357.9 1628.6,1353.8 1628.9,1352.2 1629.8,1351.7 1630.7,1348.5 1630.8,1349.3 1631.6,1346.8 1632.5,1341.5 1633.0,1340.4 1633.4,1342.5 1634.3,1343.7 1635.2,1347.9 1636.1,1348.8 1636.4,1350.5 1636.7,1351.6 1637.0,1348.5 1637.8,1338.1 1637.9,1336.7 1638.8,1333.0 1639.7,1326.2 1640.1,1324.7 1640.6,1322.9 1641.5,1317.5 1642.4,1314.2 1643.3,1308.9 1643.4,1309.0 1644.2,1306.7 1645.1,1302.8 1646.0,1301.1 1646.8,1297.8 1646.9,1296.3 1647.8,1292.1 1648.7,1285.2 1649.6,1281.6 1650.2,1277.6 1650.5,1276.3 1651.4,1275.8 1652.3,1272.6 1652.4,1273.1 1653.2,1274.1 1654.1,1273.1 1655.0,1275.0 1655.8,1274.3 1655.9,1274.2 1656.8,1279.3 1657.7,1281.3 1658.0,1283.2 1658.6,1284.2 1659.5,1282.9 1660.4,1283.9 1661.3,1282.4 1661.4,1283.2 1662.2,1281.5 1663.1,1278.2 1663.6,1277.6 1664.0,1276.0 1664.9,1271.0 1665.8,1267.8 1666.7,1262.7 1667.0,1261.9 1667.6,1258.9 1668.5,1252.7 1669.4,1249.5 1670.3,1243.4 1670.3,1244.0 1671.2,1242.0 1672.1,1237.3 1673.0,1236.0 1673.7,1232.8 1673.9,1231.3 1674.8,1229.9 1675.7,1225.6 1676.6,1223.7 1677.1,1221.6 1677.5,1219.6 1678.4,1218.5 1679.3,1214.9 1680.2,1214.1 1681.1,1210.8 1681.6,1210.4 1682.0,1209.8 1682.9,1206.9 1683.8,1206.5 1684.7,1203.6 1685.6,1203.2 1686.0,1201.4 1686.5,1199.9 1687.4,1199.6 1688.3,1196.6 1689.2,1196.3 1690.1,1193.7 1690.5,1193.6 1691.0,1194.6 1691.9,1193.6 1692.8,1195.2 1693.7,1194.4 1694.6,1196.1 1695.0,1195.8 1695.5,1195.9 1696.4,1197.3 1697.3,1197.2 1698.2,1198.6 1699.1,1198.1 1699.5,1199.2 1700.0,1200.3 1700.9,1199.7 1701.8,1202.3 1702.7,1202.1 1703.6,1204.3 1704.0,1203.6 1704.5,1203.1 1705.4,1205.1 1706.3,1204.5 1707.2,1206.7 1708.1,1206.1 1708.5,1207.0 1709.0,1208.3 1709.9,1207.3 1710.8,1208.9 1711.7,1207.7 1712.6,1209.9 1712.9,1209.2 1713.5,1208.2 1714.4,1209.1 1715.3,1206.6 1716.2,1207.5 1717.1,1205.7 1717.4,1205.9 1718.0,1206.2 1718.9,1204.1 1719.8,1204.5 1720.7,1203.1 1721.6,1203.4 1721.9,1202.5 1722.5,1203.4 1723.4,1206.2 1724.3,1206.6 1725.2,1209.8 1725.3,1209.2 1726.1,1209.0 1727.0,1210.4 1727.9,1209.3 1728.8,1211.0 1729.7,1209.7 1729.8,1210.4 1730.6,1211.8 1731.5,1210.3 1732.4,1212.5 1733.3,1211.7 1734.2,1212.6 1734.2,1213.0 1735.1,1212.6 1736.0,1215.3 1736.9,1214.6 1737.8,1216.8 1738.7,1217.1 1738.7,1216.7 1739.6,1220.3 1740.5,1221.3 1741.4,1225.1 1742.1,1226.1 1742.3,1225.8 1743.2,1229.2 1744.1,1229.8 1744.3,1230.5 1745.0,1230.1 1745.9,1227.4 1746.8,1228.1 1747.7,1226.1 1747.7,1225.1 1748.6,1225.4 1749.5,1223.9 1750.4,1223.8 1751.3,1221.8 1752.2,1221.6 1752.2,1222.2 1753.1,1220.2 1754.0,1220.4 1754.9,1218.4 1755.8,1218.3 1756.7,1216.2 1757.6,1216.8 1757.8,1216.0 1758.5,1215.4 1759.4,1216.9 1760.3,1216.0 1761.2,1217.3 1762.1,1216.5 1762.3,1217.1 1763.0,1218.7 1763.9,1217.9 1764.8,1220.0 1765.7,1220.2 1766.6,1222.3 1766.7,1221.6 1767.5,1223.5 1768.4,1228.1 1769.3,1229.8 1770.1,1232.8 1770.2,1235.9 1771.1,1251.1 1771.2,1253.0 1772.0,1267.2 1772.9,1280.4 1773.0,1282.1 1773.8,1281.5 1774.7,1278.2 1775.6,1278.2 1775.7,1277.6 1776.5,1275.8 1777.4,1276.1 1778.3,1273.2 1779.1,1273.1 1779.2,1273.4 1780.1,1270.8 1781.0,1270.2 1781.9,1267.4 1782.4,1267.5 1782.8,1269.7 1783.7,1273.1 1784.6,1278.2 1784.7,1277.6 1785.5,1281.3 1786.4,1287.3 1786.9,1288.8 1787.3,1289.5 1788.2,1293.2 1789.1,1294.4 1790.0,1297.6 1790.3,1297.8 1790.9,1297.9 1791.8,1300.2 1792.7,1300.6 1793.6,1302.3 1793.6,1303.1 1794.5,1302.2 1795.4,1304.1 1796.3,1303.9 1797.2,1305.5 1798.1,1305.6 1798.1,1304.8 1799.0,1306.7 1799.9,1306.2 1800.8,1307.8 1801.7,1306.7 1802.6,1307.9 1802.6,1308.8 1803.5,1307.2 1804.4,1309.3 1805.3,1308.0 1806.2,1309.6 1807.1,1309.0 1807.1,1308.5 1808.0,1309.5 1808.9,1308.4 1809.8,1310.0 1810.7,1308.1 1811.6,1309.0 1811.6,1309.4 1812.5,1307.5 1813.4,1307.7 1814.3,1305.7 1815.2,1305.9 1816.1,1304.5 1816.1,1303.7 1817.0,1302.3 1817.9,1298.8 1818.8,1297.9 1819.4,1295.5 1819.7,1293.9 1820.6,1292.7 1821.5,1288.3 1822.3,1286.6 1822.4,1286.9 1823.3,1284.5 1824.2,1285.1 1825.0,1283.2 1825.1,1283.7 1826.0,1291.8 1826.8,1297.8 1826.9,1296.7 1827.8,1295.0 1828.7,1290.7 1829.5,1288.8 1829.6,1290.3 1830.5,1291.5 1831.4,1296.1 1832.3,1297.9 1832.9,1300.0 1833.2,1298.8 1834.1,1292.8 1835.0,1289.5 1835.1,1288.8 1835.9,1290.1 1836.8,1293.1 1837.7,1293.2 1838.5,1295.5 1838.6,1296.1 1839.5,1295.9 1840.4,1297.9 1841.3,1297.6 1841.8,1298.9 1842.2,1299.5 1843.1,1297.8 1844.0,1298.3 1844.1,1297.8 1844.9,1294.3 1845.8,1293.2 1846.3,1291.1 1846.7,1287.8 1847.6,1284.1 1847.9,1282.1" fill="none" stroke="#000" stroke-width="3.0" stroke-linejoin="round" stroke-linecap="round" />
<rect x="1191.6" y="1016.1" width="657.4" height="534.7" fill="none" stroke="#000" stroke-width="2.2"/>
<line x1="1198.6" y1="1550.8" x2="1198.6" y2="1560.8" stroke="#000" stroke-width="2" />
<line x1="1328.6" y1="1550.8" x2="1328.6" y2="1560.8" stroke="#000" stroke-width="2" />
<line x1="1458.7" y1="1550.8" x2="1458.7" y2="1560.8" stroke="#000" stroke-width="2" />
<line x1="1588.8" y1="1550.8" x2="1588.8" y2="1560.8" stroke="#000" stroke-width="2" />
<line x1="1718.8" y1="1550.8" x2="1718.8" y2="1560.8" stroke="#000" stroke-width="2" />
<line x1="1848.8" y1="1550.8" x2="1848.8" y2="1560.8" stroke="#000" stroke-width="2" />
<line x1="1263.6" y1="1550.8" x2="1263.6" y2="1556.3" stroke="#000" stroke-width="2" />
<line x1="1393.7" y1="1550.8" x2="1393.7" y2="1556.3" stroke="#000" stroke-width="2" />
<line x1="1523.7" y1="1550.8" x2="1523.7" y2="1556.3" stroke="#000" stroke-width="2" />
<line x1="1653.8" y1="1550.8" x2="1653.8" y2="1556.3" stroke="#000" stroke-width="2" />
<line x1="1783.8" y1="1550.8" x2="1783.8" y2="1556.3" stroke="#000" stroke-width="2" />
<line x1="1181.1" y1="1069.7" x2="1191.6" y2="1069.7" stroke="#000" stroke-width="2" />
<line x1="1181.1" y1="1176.4" x2="1191.6" y2="1176.4" stroke="#000" stroke-width="2" />
<line x1="1181.1" y1="1283.1" x2="1191.6" y2="1283.1" stroke="#000" stroke-width="2" />
<line x1="1181.1" y1="1389.8" x2="1191.6" y2="1389.8" stroke="#000" stroke-width="2" />
<line x1="1181.1" y1="1496.5" x2="1191.6" y2="1496.5" stroke="#000" stroke-width="2" />
<line x1="1186.1" y1="1016.3" x2="1191.6" y2="1016.3" stroke="#000" stroke-width="2" />
<line x1="1186.1" y1="1123.0" x2="1191.6" y2="1123.0" stroke="#000" stroke-width="2" />
<line x1="1186.1" y1="1229.8" x2="1191.6" y2="1229.8" stroke="#000" stroke-width="2" />
<line x1="1186.1" y1="1336.4" x2="1191.6" y2="1336.4" stroke="#000" stroke-width="2" />
<line x1="1186.1" y1="1443.1" x2="1191.6" y2="1443.1" stroke="#000" stroke-width="2" />
<line x1="1186.1" y1="1549.8" x2="1191.6" y2="1549.8" stroke="#000" stroke-width="2" />
<text x="1198.6" y="1589.3" font-size="27.8" text-anchor="middle" fill="#000" font-family="'Liberation Sans', Arial, sans-serif" >0.16</text>
<text x="1328.6" y="1589.3" font-size="27.8" text-anchor="middle" fill="#000" font-family="'Liberation Sans', Arial, sans-serif" >0.18</text>
<text x="1458.7" y="1589.3" font-size="27.8" text-anchor="middle" fill="#000" font-family="'Liberation Sans', Arial, sans-serif" >0.20</text>
<text x="1588.8" y="1589.3" font-size="27.8" text-anchor="middle" fill="#000" font-family="'Liberation Sans', Arial, sans-serif" >0.22</text>
<text x="1718.8" y="1589.3" font-size="27.8" text-anchor="middle" fill="#000" font-family="'Liberation Sans', Arial, sans-serif" >0.24</text>
<text x="1848.8" y="1589.3" font-size="27.8" text-anchor="middle" fill="#000" font-family="'Liberation Sans', Arial, sans-serif" >0.26</text>
<text x="1174.0" y="1078.7" font-size="27.8" text-anchor="end" fill="#000" font-family="'Liberation Sans', Arial, sans-serif" >1.0</text>
<text x="1174.0" y="1185.4" font-size="27.8" text-anchor="end" fill="#000" font-family="'Liberation Sans', Arial, sans-serif" >0.5</text>
<text x="1174.0" y="1292.1" font-size="27.8" text-anchor="end" fill="#000" font-family="'Liberation Sans', Arial, sans-serif" >0.0</text>
<text x="1174.0" y="1398.8" font-size="27.8" text-anchor="end" fill="#000" font-family="'Liberation Sans', Arial, sans-serif" >-0.5</text>
<text x="1174.0" y="1505.5" font-size="27.8" text-anchor="end" fill="#000" font-family="'Liberation Sans', Arial, sans-serif" >-1.0</text>
<rect x="1482.5" y="1048.7" width="291.6" height="72.4" fill="#fff" stroke="#555" stroke-width="1.5"/>
<line x1="1495.8" y1="1068.0" x2="1565.9" y2="1068.0" stroke="#000" stroke-width="2.2" />
<line x1="1495.8" y1="1104.5" x2="1565.9" y2="1104.5" stroke="#ff0000" stroke-width="2.2" />
<text x="1574.1" y="1078.3" font-size="30" text-anchor="start" fill="#000" font-family="'Liberation Sans', Arial, sans-serif" >Norm. Voltage</text>
<text x="1574.1" y="1114.7" font-size="30" text-anchor="start" fill="#000" font-family="'Liberation Sans', Arial, sans-serif" >Norm. Strain</text>
<text x="1370.0" y="990.6" font-size="48" text-anchor="start" fill="#000" font-family="'Liberation Sans', Arial, sans-serif" textLength="334.0" lengthAdjust="spacingAndGlyphs" >Low Frequency</text>
<text x="1521.4" y="1646.6" font-size="38.2" text-anchor="middle" fill="#000" font-family="'Liberation Sans', Arial, sans-serif" >Time(s)</text>
<text x="1078.9" y="1308.4" font-size="38" text-anchor="middle" fill="#000" font-family="'Liberation Sans', Arial, sans-serif" transform="rotate(-90 1078.9 1308.4)" >Normlised Voltage/Strain</text>
<line x1="1212.8" y1="1722.2" x2="1212.8" y2="2246.5" stroke="#5a5a5a" stroke-width="1.4" stroke-dasharray="1.4 2.75"/>
<line x1="1292.0" y1="1722.2" x2="1292.0" y2="2246.5" stroke="#5a5a5a" stroke-width="1.4" stroke-dasharray="1.4 2.75"/>
<line x1="1371.2" y1="1722.2" x2="1371.2" y2="2246.5" stroke="#5a5a5a" stroke-width="1.4" stroke-dasharray="1.4 2.75"/>
<line x1="1450.4" y1="1722.2" x2="1450.4" y2="2246.5" stroke="#5a5a5a" stroke-width="1.4" stroke-dasharray="1.4 2.75"/>
<line x1="1529.6" y1="1722.2" x2="1529.6" y2="2246.5" stroke="#5a5a5a" stroke-width="1.4" stroke-dasharray="1.4 2.75"/>
<line x1="1608.8" y1="1722.2" x2="1608.8" y2="2246.5" stroke="#5a5a5a" stroke-width="1.4" stroke-dasharray="1.4 2.75"/>
<line x1="1688.1" y1="1722.2" x2="1688.1" y2="2246.5" stroke="#5a5a5a" stroke-width="1.4" stroke-dasharray="1.4 2.75"/>
<line x1="1767.3" y1="1722.2" x2="1767.3" y2="2246.5" stroke="#5a5a5a" stroke-width="1.4" stroke-dasharray="1.4 2.75"/>
<line x1="1198.7" y1="1871.2" x2="1845.6" y2="1871.2" stroke="#5a5a5a" stroke-width="1.4" stroke-dasharray="1.4 2.75"/>
<line x1="1198.7" y1="2022.3" x2="1845.6" y2="2022.3" stroke="#5a5a5a" stroke-width="1.4" stroke-dasharray="1.4 2.75"/>
<line x1="1198.7" y1="2173.4" x2="1845.6" y2="2173.4" stroke="#5a5a5a" stroke-width="1.4" stroke-dasharray="1.4 2.75"/>
<polyline points="1212.2,1940.5 1228.1,1836.5 1244.1,1859.1 1260.4,1807.1 1276.5,1870.5 1292.2,1844.0 1308.5,1842.0 1324.2,1930.7 1340.3,2055.3 1356.4,1981.7 1372.1,1993.5 1388.3,2092.5 1404.0,2044.5 1419.7,2004.3 1436.4,1978.2 1451.7,2023.9 1467.8,2044.5 1484.5,2061.2 1500.2,2055.3 1516.3,2104.3 1532.2,2077.4 1549.0,2111.7 1564.7,2208.8 1580.8,2130.4 1597.1,2068.6 1612.2,2055.8 1628.5,2040.1 1644.6,2062.7 1660.9,2072.5 1677.0,2082.3 1692.7,2122.5 1708.7,2114.7 1725.0,2082.3 1741.3,2093.1 1757.0,2126.4 1773.1,2128.0 1788.8,2130.4 1804.1,2133.7 1820.2,2115.7 1837.8,2132.7" fill="none" stroke="#ff0000" stroke-width="2.6" stroke-linejoin="round" stroke-linecap="round" />
<polyline points="1212.2,1831.0 1228.1,1835.5 1244.1,1868.9 1259.8,1792.4 1276.5,1780.6 1291.8,1827.7 1307.5,1902.8 1323.6,1875.8 1339.3,1885.6 1355.0,1914.0 1370.7,1931.1 1387.4,2007.6 1404.0,1981.7 1418.8,1938.5 1434.5,1931.1 1451.1,1944.4 1466.8,2025.8 1482.5,1952.3 1498.2,1942.5 1513.9,1955.8 1529.8,1961.6 1545.5,1962.6 1561.8,1951.8 1577.9,1974.4 1594.2,1988.1 1609.9,1948.9 1625.9,1956.7 1641.6,2001.9 1658.3,1989.1 1674.0,1968.5 1689.7,1971.8 1705.4,2059.7 1721.1,1993.0 1737.4,1965.6 1753.5,2008.7 1768.8,2050.9 1784.9,1986.2 1800.9,1992.1 1816.6,2081.3 1832.9,2020.5" fill="none" stroke="#000" stroke-width="2.6" stroke-linejoin="round" stroke-linecap="round" />
<rect x="1196.7" y="1720.2" width="650.9" height="528.3" fill="none" stroke="#000" stroke-width="2.2"/>
<line x1="1212.8" y1="2248.5" x2="1212.8" y2="2258.5" stroke="#000" stroke-width="2" />
<line x1="1292.0" y1="2248.5" x2="1292.0" y2="2258.5" stroke="#000" stroke-width="2" />
<line x1="1371.2" y1="2248.5" x2="1371.2" y2="2258.5" stroke="#000" stroke-width="2" />
<line x1="1450.4" y1="2248.5" x2="1450.4" y2="2258.5" stroke="#000" stroke-width="2" />
<line x1="1529.6" y1="2248.5" x2="1529.6" y2="2258.5" stroke="#000" stroke-width="2" />
<line x1="1608.8" y1="2248.5" x2="1608.8" y2="2258.5" stroke="#000" stroke-width="2" />
<line x1="1688.1" y1="2248.5" x2="1688.1" y2="2258.5" stroke="#000" stroke-width="2" />
<line x1="1767.3" y1="2248.5" x2="1767.3" y2="2258.5" stroke="#000" stroke-width="2" />
<line x1="1846.5" y1="2248.5" x2="1846.5" y2="2258.5" stroke="#000" stroke-width="2" />
<line x1="1252.4" y1="2248.5" x2="1252.4" y2="2254.0" stroke="#000" stroke-width="2" />
<line x1="1331.6" y1="2248.5" x2="1331.6" y2="2254.0" stroke="#000" stroke-width="2" />
<line x1="1410.8" y1="2248.5" x2="1410.8" y2="2254.0" stroke="#000" stroke-width="2" />
<line x1="1490.0" y1="2248.5" x2="1490.0" y2="2254.0" stroke="#000" stroke-width="2" />
<line x1="1569.2" y1="2248.5" x2="1569.2" y2="2254.0" stroke="#000" stroke-width="2" />
<line x1="1648.5" y1="2248.5" x2="1648.5" y2="2254.0" stroke="#000" stroke-width="2" />
<line x1="1727.7" y1="2248.5" x2="1727.7" y2="2254.0" stroke="#000" stroke-width="2" />
<line x1="1806.9" y1="2248.5" x2="1806.9" y2="2254.0" stroke="#000" stroke-width="2" />
<line x1="1186.2" y1="1720.1" x2="1196.7" y2="1720.1" stroke="#000" stroke-width="2" />
<line x1="1186.2" y1="1871.2" x2="1196.7" y2="1871.2" stroke="#000" stroke-width="2" />
<line x1="1186.2" y1="2022.3" x2="1196.7" y2="2022.3" stroke="#000" stroke-width="2" />
<line x1="1186.2" y1="2173.4" x2="1196.7" y2="2173.4" stroke="#000" stroke-width="2" />
<line x1="1191.2" y1="1795.6" x2="1196.7" y2="1795.6" stroke="#000" stroke-width="2" />
<line x1="1191.2" y1="1946.8" x2="1196.7" y2="1946.8" stroke="#000" stroke-width="2" />
<line x1="1191.2" y1="2097.8" x2="1196.7" y2="2097.8" stroke="#000" stroke-width="2" />
<line x1="1191.2" y1="2248.9" x2="1196.7" y2="2248.9" stroke="#000" stroke-width="2" />
<text x="1212.8" y="2288.3" font-size="27.8" text-anchor="middle" fill="#000" font-family="'Liberation Sans', Arial, sans-serif" >0</text>
<text x="1292.0" y="2288.3" font-size="27.8" text-anchor="middle" fill="#000" font-family="'Liberation Sans', Arial, sans-serif" >50</text>
<text x="1371.2" y="2288.3" font-size="27.8" text-anchor="middle" fill="#000" font-family="'Liberation Sans', Arial, sans-serif" >100</text>
<text x="1450.4" y="2288.3" font-size="27.8" text-anchor="middle" fill="#000" font-family="'Liberation Sans', Arial, sans-serif" >150</text>
<text x="1529.6" y="2288.3" font-size="27.8" text-anchor="middle" fill="#000" font-family="'Liberation Sans', Arial, sans-serif" >200</text>
<text x="1608.8" y="2288.3" font-size="27.8" text-anchor="middle" fill="#000" font-family="'Liberation Sans', Arial, sans-serif" >250</text>
<text x="1688.1" y="2288.3" font-size="27.8" text-anchor="middle" fill="#000" font-family="'Liberation Sans', Arial, sans-serif" >300</text>
<text x="1767.3" y="2288.3" font-size="27.8" text-anchor="middle" fill="#000" font-family="'Liberation Sans', Arial, sans-serif" >350</text>
<text x="1846.5" y="2288.3" font-size="27.8" text-anchor="middle" fill="#000" font-family="'Liberation Sans', Arial, sans-serif" >400</text>
<text x="1178.5" y="1729.1" font-size="27.8" text-anchor="end" fill="#000" font-family="'Liberation Sans', Arial, sans-serif" >0</text>
<text x="1178.5" y="1880.2" font-size="27.8" text-anchor="end" fill="#000" font-family="'Liberation Sans', Arial, sans-serif" >-20</text>
<text x="1178.5" y="2031.3" font-size="27.8" text-anchor="end" fill="#000" font-family="'Liberation Sans', Arial, sans-serif" >-40</text>
<text x="1178.5" y="2182.4" font-size="27.8" text-anchor="end" fill="#000" font-family="'Liberation Sans', Arial, sans-serif" >-60</text>
<rect x="1581.8" y="1752.4" width="199.4" height="72.6" fill="#fff" stroke="#333" stroke-width="1.5"/>
<line x1="1596.0" y1="1771.6" x2="1664.5" y2="1771.6" stroke="#000" stroke-width="2.6" />
<line x1="1596.0" y1="1808.6" x2="1664.5" y2="1808.6" stroke="#ff0000" stroke-width="2.6" />
<text x="1672.3" y="1781.0" font-size="29.5" text-anchor="start" fill="#000" font-family="'Liberation Sans', Arial, sans-serif" >Voltage</text>
<text x="1672.3" y="1817.2" font-size="29.5" text-anchor="start" fill="#000" font-family="'Liberation Sans', Arial, sans-serif" >Strain</text>
<text x="1521.8" y="2342.7" font-size="38.1" text-anchor="middle" fill="#000" font-family="'Liberation Sans', Arial, sans-serif" >Frequency(Hz)</text>
<text x="1103.0" y="2332.7" font-size="48" text-anchor="start" fill="#000" font-family="'Liberation Sans', Arial, sans-serif" >c)</text>
<text x="1092.5" y="2009.2" font-size="37.7" text-anchor="middle" fill="#000" font-family="'Liberation Sans', Arial, sans-serif" transform="rotate(-90 1092.5 2009.2)" >dB(Norm. Voltage/Strain)</text>
</svg>
</body></html>
